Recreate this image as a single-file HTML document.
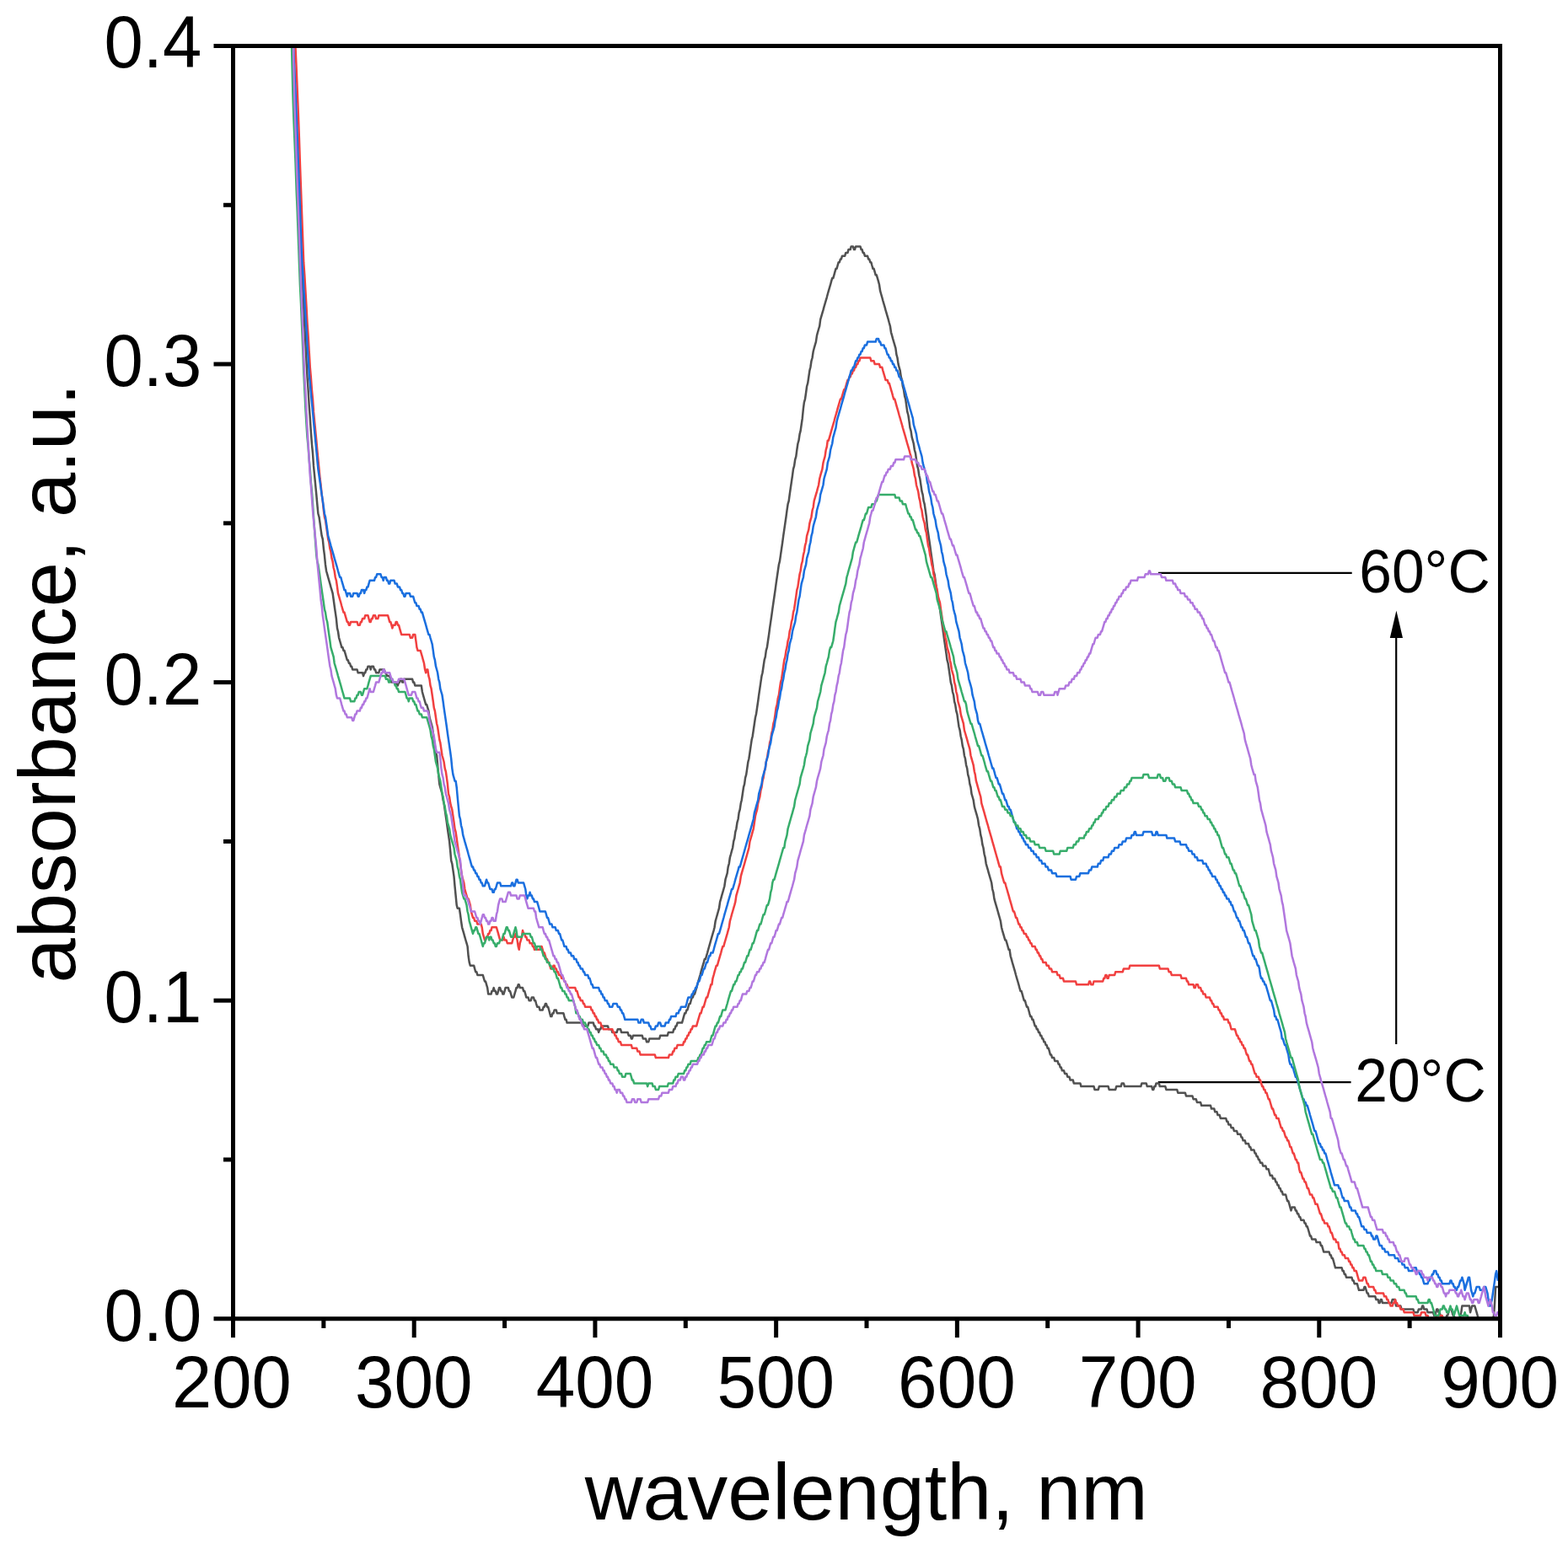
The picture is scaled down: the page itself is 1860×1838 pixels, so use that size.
<!DOCTYPE html>
<html lang="en">
<head>
<meta charset="utf-8">
<title>absorbance vs wavelength</title>
<style>
html,body{margin:0;padding:0;background:#fff;}
body{width:1860px;height:1838px;overflow:hidden;}
svg{display:block;}
text{font-family:"Liberation Sans",sans-serif;fill:#000;}
.tk{font-size:85px;}
.tt{font-size:95px;}
.an{font-size:71px;}
.ax{stroke:#000;stroke-width:5;fill:none;stroke-linecap:butt;}
.al{stroke:#000;stroke-width:2.2;fill:none;}
.cv{fill:none;stroke-width:2.5;stroke-linejoin:round;stroke-linecap:butt;}
</style>
</head>
<body>
<svg width="1860" height="1838" viewBox="0 0 1860 1838">
<rect x="0" y="0" width="1860" height="1838" fill="#fff"/>
<g class="al">
<line x1="1374" y1="679.8" x2="1603.7" y2="679.8"/>
<line x1="1373.7" y1="1284.2" x2="1602.6" y2="1284.2"/>
<line x1="1656.2" y1="1238.9" x2="1656.2" y2="750"/>
</g>
<polygon points="1656.4,724.6 1648.8,757 1664,757" fill="#000"/>
<svg x="276.50" y="54.50" width="1503.00" height="1510.25" viewBox="276.50 54.50 1503.00 1510.25" overflow="hidden">
<path class="cv" stroke="#515151" d="M348.0 57.0 L348.4 65.8 L349.5 92.3 L350.6 118.7 L351.6 145.1 L352.7 175.3 L353.8 205.5 L354.9 235.7 L355.9 269.7 L357.0 299.9 L358.1 322.6 L359.2 341.4 L360.2 364.1 L361.3 386.8 L362.4 405.6 L363.5 428.3 L364.5 447.2 L365.6 462.3 L366.7 481.1 L367.8 496.2 L368.8 511.4 L369.9 526.5 L371.0 537.8 L372.0 552.9 L373.1 564.2 L374.2 575.5 L375.3 586.9 L376.3 598.2 L377.4 609.5 L378.5 613.3 L379.6 620.8 L380.6 628.4 L381.7 635.9 L382.8 639.7 L383.9 651.0 L384.9 658.6 L386.0 669.9 L387.1 677.5 L388.2 681.3 L389.2 685.0 L390.3 688.8 L391.4 692.6 L392.4 696.4 L393.5 700.1 L394.6 703.9 L395.7 711.5 L396.7 719.0 L397.8 726.6 L398.9 734.1 L400.0 745.4 L401.0 749.2 L402.1 756.8 L403.2 760.5 L404.3 764.3 L405.3 768.1 L406.4 768.1 L407.5 771.9 L408.5 771.9 L409.6 775.6 L410.7 779.4 L411.8 783.2 L412.8 783.2 L413.9 787.0 L415.0 787.0 L416.1 790.7 L417.1 790.7 L418.2 794.5 L423.6 794.5 L424.7 798.3 L430.0 798.3 L431.1 802.1 L432.2 798.3 L433.2 798.3 L434.3 794.5 L435.4 794.5 L436.5 790.7 L438.6 790.7 L439.7 794.5 L440.8 790.7 L442.9 790.7 L444.0 794.5 L445.1 794.5 L446.1 798.3 L449.3 798.3 L450.4 794.5 L455.8 794.5 L456.9 798.3 L457.9 798.3 L459.0 802.1 L462.2 802.1 L463.3 805.8 L464.4 809.6 L469.7 809.6 L470.8 813.4 L471.9 813.4 L473.0 809.6 L474.0 809.6 L475.1 805.8 L476.2 805.8 L477.3 809.6 L478.3 809.6 L479.4 805.8 L489.1 805.8 L490.1 809.6 L491.2 809.6 L492.3 813.4 L499.8 813.4 L500.9 821.0 L501.9 824.7 L503.0 828.5 L504.1 832.3 L505.2 836.1 L506.2 836.1 L507.3 839.8 L508.4 843.6 L509.5 851.2 L510.5 854.9 L511.6 858.7 L512.7 862.5 L513.8 870.0 L514.8 877.6 L515.9 885.1 L517.0 892.7 L518.1 896.5 L519.1 907.8 L520.2 919.1 L521.3 930.4 L522.3 934.2 L523.4 938.0 L524.5 941.8 L525.6 949.3 L526.6 953.1 L527.7 960.7 L528.8 968.2 L529.9 975.8 L530.9 983.3 L532.0 990.9 L533.1 998.4 L534.2 1009.7 L535.2 1021.1 L536.3 1024.8 L537.4 1032.4 L538.5 1039.9 L539.5 1051.3 L540.6 1062.6 L541.7 1073.9 L542.7 1077.7 L544.9 1077.7 L546.0 1085.2 L547.0 1092.8 L548.1 1100.3 L549.2 1104.1 L550.3 1107.9 L551.3 1111.7 L552.4 1115.5 L553.5 1119.2 L554.6 1123.0 L555.6 1134.3 L556.7 1141.9 L557.8 1145.7 L562.1 1145.7 L563.1 1149.4 L564.2 1153.2 L565.3 1153.2 L566.4 1157.0 L572.8 1157.0 L573.9 1160.8 L575.0 1164.5 L576.0 1164.5 L577.1 1168.3 L578.2 1172.1 L579.2 1179.6 L582.5 1179.6 L583.5 1175.9 L584.6 1175.9 L585.7 1172.1 L586.8 1175.9 L587.8 1175.9 L588.9 1179.6 L590.0 1179.6 L591.1 1175.9 L592.1 1172.1 L593.2 1172.1 L594.3 1175.9 L595.4 1175.9 L596.4 1179.6 L597.5 1179.6 L598.6 1175.9 L599.6 1172.1 L602.9 1172.1 L603.9 1175.9 L605.0 1175.9 L606.1 1179.6 L607.2 1183.4 L609.3 1183.4 L610.4 1179.6 L611.5 1175.9 L612.5 1172.1 L613.6 1172.1 L614.7 1168.3 L615.7 1168.3 L616.8 1172.1 L620.0 1172.1 L621.1 1175.9 L622.2 1175.9 L623.3 1179.6 L624.3 1183.4 L626.5 1183.4 L627.6 1187.2 L629.7 1187.2 L630.8 1183.4 L632.9 1183.4 L634.0 1187.2 L635.1 1187.2 L636.1 1191.0 L637.2 1194.7 L639.4 1194.7 L640.4 1198.5 L643.7 1198.5 L644.7 1194.7 L645.8 1194.7 L646.9 1191.0 L648.0 1191.0 L649.0 1194.7 L650.1 1194.7 L651.2 1198.5 L652.2 1202.3 L653.3 1206.1 L654.4 1206.1 L655.5 1202.3 L656.5 1202.3 L657.6 1198.5 L659.8 1198.5 L660.8 1202.3 L668.4 1202.3 L669.4 1206.1 L670.5 1209.8 L671.6 1209.8 L672.6 1213.6 L690.9 1213.6 L692.0 1217.4 L697.3 1217.4 L698.4 1213.6 L703.8 1213.6 L704.9 1217.4 L705.9 1217.4 L707.0 1221.2 L709.1 1221.2 L710.2 1224.9 L711.3 1221.2 L712.4 1221.2 L713.4 1217.4 L721.0 1217.4 L722.0 1221.2 L725.3 1221.2 L726.3 1224.9 L731.7 1224.9 L732.8 1221.2 L736.0 1221.2 L737.1 1224.9 L744.6 1224.9 L745.7 1228.7 L747.8 1228.7 L748.9 1232.5 L749.9 1232.5 L751.0 1228.7 L761.8 1228.7 L762.8 1232.5 L766.0 1232.5 L767.1 1236.3 L769.3 1236.3 L770.3 1232.5 L782.2 1232.5 L783.2 1228.7 L791.8 1228.7 L792.9 1224.9 L798.3 1224.9 L799.3 1221.2 L800.4 1221.2 L801.5 1217.4 L802.5 1217.4 L803.6 1213.6 L809.0 1213.6 L810.1 1209.8 L811.1 1206.1 L812.2 1202.3 L813.3 1202.3 L814.4 1198.5 L815.4 1198.5 L816.5 1194.7 L817.6 1191.0 L818.7 1191.0 L819.7 1187.2 L820.8 1183.4 L821.9 1183.4 L822.9 1179.6 L824.0 1179.6 L825.1 1175.9 L826.2 1172.1 L827.2 1168.3 L828.3 1164.5 L829.4 1160.8 L830.5 1157.0 L831.5 1153.2 L832.6 1149.4 L833.7 1145.7 L834.8 1141.9 L835.8 1138.1 L836.9 1138.1 L838.0 1134.3 L839.1 1130.6 L840.1 1126.8 L841.2 1123.0 L842.3 1119.2 L843.3 1115.5 L844.4 1111.7 L845.5 1107.9 L846.6 1104.1 L847.6 1100.3 L848.7 1092.8 L849.8 1089.0 L850.9 1085.2 L851.9 1081.5 L853.0 1077.7 L854.1 1070.1 L855.2 1066.4 L856.2 1062.6 L857.3 1058.8 L858.4 1055.0 L859.4 1051.3 L860.5 1043.7 L861.6 1039.9 L862.7 1036.2 L863.7 1028.6 L864.8 1024.8 L865.9 1017.3 L867.0 1013.5 L868.0 1009.7 L869.1 1006.0 L870.2 998.4 L871.3 994.6 L872.3 987.1 L873.4 983.3 L874.5 975.8 L875.6 972.0 L876.6 964.4 L877.7 960.7 L878.8 953.1 L879.8 949.3 L880.9 941.8 L882.0 934.2 L883.1 930.4 L884.1 922.9 L885.2 919.1 L886.3 911.6 L887.4 904.0 L888.4 900.2 L889.5 892.7 L890.6 885.1 L891.7 877.6 L892.7 873.8 L893.8 866.3 L894.9 858.7 L896.0 851.2 L897.0 847.4 L898.1 839.8 L899.2 832.3 L900.2 824.7 L901.3 817.2 L902.4 809.6 L903.5 802.1 L904.5 798.3 L905.6 790.7 L906.7 783.2 L907.8 779.4 L908.8 771.9 L909.9 768.1 L911.0 760.5 L912.1 753.0 L913.1 745.4 L914.2 737.9 L915.3 730.3 L916.3 722.8 L917.4 715.2 L918.5 707.7 L919.6 700.1 L920.6 692.6 L921.7 685.0 L922.8 677.5 L923.9 669.9 L924.9 666.2 L926.0 658.6 L927.1 651.0 L928.2 643.5 L929.2 635.9 L930.3 628.4 L931.4 620.8 L932.5 613.3 L933.5 605.7 L934.6 598.2 L935.7 594.4 L936.7 586.9 L937.8 579.3 L938.9 571.8 L940.0 564.2 L941.0 556.7 L942.1 552.9 L943.2 545.3 L944.3 541.6 L945.3 534.0 L946.4 526.5 L947.5 522.7 L948.6 515.1 L949.6 511.4 L950.7 503.8 L951.8 496.2 L952.9 484.9 L953.9 477.4 L955.0 473.6 L956.1 466.0 L957.1 458.5 L958.2 454.7 L959.3 447.2 L960.4 439.6 L961.4 435.8 L962.5 428.3 L963.6 424.5 L964.7 417.0 L965.7 413.2 L966.8 409.4 L967.9 405.6 L969.0 398.1 L970.0 394.3 L971.1 390.5 L972.2 386.8 L973.2 379.2 L974.3 375.4 L975.4 371.7 L976.5 367.9 L977.5 364.1 L978.6 360.3 L979.7 356.6 L980.8 352.8 L981.8 349.0 L982.9 345.2 L984.0 341.4 L985.1 337.7 L986.1 333.9 L987.2 330.1 L988.3 330.1 L989.4 326.3 L990.4 322.6 L991.5 318.8 L992.6 318.8 L993.6 315.0 L994.7 311.2 L995.8 311.2 L996.9 307.5 L997.9 307.5 L999.0 303.7 L1002.2 303.7 L1003.3 299.9 L1005.5 299.9 L1006.5 296.1 L1008.7 296.1 L1009.7 292.4 L1011.9 292.4 L1013.0 296.1 L1014.0 296.1 L1015.1 292.4 L1020.5 292.4 L1021.6 296.1 L1022.6 296.1 L1023.7 299.9 L1024.8 299.9 L1025.9 303.7 L1029.1 303.7 L1030.1 307.5 L1031.2 307.5 L1032.3 311.2 L1033.4 311.2 L1034.4 315.0 L1035.5 318.8 L1036.6 318.8 L1037.7 322.6 L1038.7 326.3 L1039.8 326.3 L1040.9 330.1 L1042.0 333.9 L1043.0 337.7 L1044.1 345.2 L1045.2 349.0 L1046.3 352.8 L1047.3 356.6 L1048.4 360.3 L1049.5 364.1 L1050.5 367.9 L1051.6 371.7 L1052.7 375.4 L1053.8 379.2 L1054.8 383.0 L1055.9 386.8 L1057.0 394.3 L1058.1 398.1 L1059.1 401.9 L1060.2 405.6 L1061.3 409.4 L1062.4 413.2 L1063.4 420.7 L1064.5 424.5 L1065.6 432.1 L1066.6 435.8 L1067.7 439.6 L1068.8 447.2 L1069.9 450.9 L1070.9 458.5 L1072.0 462.3 L1073.1 469.8 L1074.2 473.6 L1075.2 481.1 L1076.3 488.7 L1077.4 492.5 L1078.5 500.0 L1079.5 507.6 L1080.6 511.4 L1081.7 518.9 L1082.8 522.7 L1083.8 526.5 L1084.9 534.0 L1086.0 537.8 L1087.0 545.3 L1088.1 552.9 L1089.2 556.7 L1090.3 564.2 L1091.3 568.0 L1092.4 575.5 L1093.5 583.1 L1094.6 586.9 L1095.6 594.4 L1096.7 598.2 L1097.8 605.7 L1098.9 613.3 L1099.9 624.6 L1101.0 632.2 L1102.1 639.7 L1103.2 647.3 L1104.2 654.8 L1105.3 662.4 L1106.4 669.9 L1107.4 677.5 L1108.5 681.3 L1109.6 688.8 L1110.7 696.4 L1111.7 703.9 L1112.8 711.5 L1113.9 715.2 L1115.0 722.8 L1116.0 730.3 L1117.1 737.9 L1118.2 745.4 L1119.3 753.0 L1120.3 760.5 L1121.4 768.1 L1122.5 775.6 L1123.5 783.2 L1124.6 787.0 L1125.7 794.5 L1126.8 802.1 L1127.8 809.6 L1128.9 813.4 L1130.0 821.0 L1131.1 824.7 L1132.1 832.3 L1133.2 836.1 L1134.3 843.6 L1135.4 847.4 L1136.4 854.9 L1137.5 862.5 L1138.6 866.3 L1139.7 873.8 L1140.7 877.6 L1141.8 885.1 L1142.9 888.9 L1143.9 896.5 L1145.0 900.2 L1146.1 907.8 L1147.2 911.6 L1148.2 919.1 L1149.3 922.9 L1150.4 930.4 L1151.5 934.2 L1152.5 941.8 L1153.6 945.5 L1154.7 949.3 L1155.8 956.9 L1156.8 960.7 L1157.9 964.4 L1159.0 968.2 L1160.0 972.0 L1161.1 979.5 L1162.2 983.3 L1163.3 990.9 L1164.3 994.6 L1165.4 1002.2 L1166.5 1006.0 L1167.6 1013.5 L1168.6 1017.3 L1169.7 1024.8 L1170.8 1028.6 L1171.9 1032.4 L1172.9 1036.2 L1174.0 1039.9 L1175.1 1043.7 L1176.2 1047.5 L1177.2 1055.0 L1178.3 1058.8 L1179.4 1066.4 L1180.4 1070.1 L1181.5 1073.9 L1182.6 1077.7 L1183.7 1081.5 L1184.7 1085.2 L1185.8 1089.0 L1186.9 1092.8 L1188.0 1100.3 L1189.0 1104.1 L1190.1 1107.9 L1191.2 1111.7 L1192.3 1115.5 L1193.3 1115.5 L1194.4 1119.2 L1195.5 1123.0 L1196.6 1126.8 L1197.6 1126.8 L1198.7 1134.3 L1199.8 1138.1 L1200.8 1141.9 L1201.9 1145.7 L1203.0 1149.4 L1204.1 1153.2 L1205.1 1157.0 L1206.2 1160.8 L1207.3 1164.5 L1208.4 1168.3 L1209.4 1172.1 L1210.5 1175.9 L1211.6 1175.9 L1212.7 1179.6 L1213.7 1183.4 L1214.8 1187.2 L1215.9 1187.2 L1216.9 1191.0 L1218.0 1194.7 L1219.1 1194.7 L1220.2 1198.5 L1221.2 1202.3 L1222.3 1206.1 L1223.4 1206.1 L1224.5 1209.8 L1225.5 1209.8 L1226.6 1213.6 L1227.7 1217.4 L1228.8 1217.4 L1229.8 1221.2 L1230.9 1221.2 L1232.0 1224.9 L1233.1 1224.9 L1234.1 1228.7 L1235.2 1228.7 L1236.3 1232.5 L1237.3 1232.5 L1238.4 1236.3 L1239.5 1236.3 L1240.6 1240.0 L1241.6 1240.0 L1242.7 1243.8 L1243.8 1243.8 L1244.9 1247.6 L1245.9 1251.4 L1247.0 1251.4 L1248.1 1255.1 L1250.2 1255.1 L1251.3 1258.9 L1254.5 1258.9 L1255.6 1262.7 L1256.7 1262.7 L1257.7 1266.5 L1258.8 1266.5 L1259.9 1270.3 L1262.0 1270.3 L1263.1 1274.0 L1265.3 1274.0 L1266.3 1277.8 L1268.5 1277.8 L1269.6 1281.6 L1272.8 1281.6 L1273.8 1285.4 L1281.4 1285.4 L1282.4 1289.1 L1297.5 1289.1 L1298.5 1292.9 L1302.8 1292.9 L1303.9 1289.1 L1314.6 1289.1 L1315.7 1292.9 L1323.2 1292.9 L1324.3 1289.1 L1329.7 1289.1 L1330.7 1285.4 L1332.9 1285.4 L1334.0 1289.1 L1353.3 1289.1 L1354.4 1285.4 L1359.7 1285.4 L1360.8 1289.1 L1366.2 1289.1 L1367.2 1292.9 L1368.3 1292.9 L1369.4 1289.1 L1370.5 1289.1 L1371.5 1285.4 L1374.8 1285.4 L1375.8 1289.1 L1382.3 1289.1 L1383.4 1292.9 L1396.2 1292.9 L1397.3 1296.7 L1405.9 1296.7 L1407.0 1300.5 L1414.5 1300.5 L1415.6 1304.2 L1418.8 1304.2 L1419.9 1308.0 L1424.1 1308.0 L1425.2 1311.8 L1436.0 1311.8 L1437.0 1315.6 L1440.3 1315.6 L1441.3 1319.3 L1443.5 1319.3 L1444.5 1323.1 L1446.7 1323.1 L1447.8 1326.9 L1454.2 1326.9 L1455.3 1330.7 L1456.4 1330.7 L1457.4 1334.4 L1459.6 1334.4 L1460.6 1338.2 L1462.8 1338.2 L1463.9 1342.0 L1467.1 1342.0 L1468.2 1345.8 L1471.4 1345.8 L1472.5 1349.5 L1473.5 1349.5 L1474.6 1353.3 L1476.8 1353.3 L1477.8 1357.1 L1481.0 1357.1 L1482.1 1360.9 L1483.2 1360.9 L1484.3 1364.6 L1487.5 1364.6 L1488.6 1368.4 L1489.6 1368.4 L1490.7 1372.2 L1491.8 1372.2 L1492.9 1376.0 L1493.9 1376.0 L1495.0 1379.7 L1497.2 1379.7 L1498.2 1383.5 L1501.4 1383.5 L1502.5 1387.3 L1504.7 1387.3 L1505.7 1391.1 L1506.8 1394.8 L1509.0 1394.8 L1510.0 1398.6 L1512.2 1398.6 L1513.3 1402.4 L1514.3 1402.4 L1515.4 1406.2 L1516.5 1406.2 L1517.5 1409.9 L1518.6 1409.9 L1519.7 1413.7 L1520.8 1413.7 L1521.8 1417.5 L1525.1 1417.5 L1526.1 1421.3 L1527.2 1425.1 L1528.3 1425.1 L1529.4 1428.8 L1530.4 1432.6 L1531.5 1436.4 L1532.6 1432.6 L1535.8 1432.6 L1536.9 1436.4 L1537.9 1436.4 L1539.0 1440.2 L1540.1 1440.2 L1541.2 1443.9 L1542.2 1443.9 L1543.3 1447.7 L1546.5 1447.7 L1547.6 1451.5 L1548.7 1451.5 L1549.8 1455.3 L1550.8 1455.3 L1551.9 1459.0 L1553.0 1462.8 L1554.0 1466.6 L1555.1 1466.6 L1556.2 1470.4 L1560.5 1470.4 L1561.6 1474.1 L1565.9 1474.1 L1566.9 1477.9 L1568.0 1477.9 L1569.1 1481.7 L1570.2 1485.5 L1576.6 1485.5 L1577.7 1489.2 L1578.7 1489.2 L1579.8 1493.0 L1580.9 1493.0 L1582.0 1496.8 L1583.0 1500.6 L1584.1 1504.3 L1591.6 1504.3 L1592.7 1508.1 L1593.8 1508.1 L1594.8 1511.9 L1595.9 1511.9 L1597.0 1515.7 L1603.4 1515.7 L1604.5 1519.4 L1605.6 1519.4 L1606.7 1523.2 L1609.9 1523.2 L1610.9 1527.0 L1612.0 1530.8 L1617.4 1530.8 L1618.5 1527.0 L1619.5 1527.0 L1620.6 1530.8 L1621.7 1534.5 L1622.8 1534.5 L1623.8 1538.3 L1631.3 1538.3 L1632.4 1542.1 L1634.6 1542.1 L1635.6 1545.9 L1636.7 1545.9 L1637.8 1542.1 L1638.9 1542.1 L1639.9 1545.9 L1650.7 1545.9 L1651.7 1542.1 L1655.0 1542.1 L1656.0 1549.6 L1661.4 1549.6 L1662.5 1553.4 L1676.4 1553.4 L1677.5 1557.2 L1681.8 1557.2 L1682.9 1553.4 L1686.1 1553.4 L1687.2 1549.6 L1688.2 1549.6 L1689.3 1553.4 L1692.5 1553.4 L1693.6 1557.2 L1700.1 1557.2 L1701.1 1561.0 L1702.2 1561.0 L1703.3 1557.2 L1704.3 1553.4 L1705.4 1553.4 L1706.5 1557.2 L1707.6 1557.2 L1708.6 1561.0 L1709.7 1561.0 L1710.8 1564.8 L1715.1 1564.8 L1716.2 1561.0 L1717.2 1561.0 L1718.3 1557.2 L1719.4 1553.4 L1721.5 1553.4 L1722.6 1557.2 L1723.7 1561.0 L1724.7 1561.0 L1725.8 1564.8 L1728.0 1564.8 L1729.0 1568.5 L1730.1 1564.8 L1731.2 1564.8 L1732.3 1561.0 L1733.3 1557.2 L1734.4 1549.6 L1743.0 1549.6 L1744.1 1557.2 L1745.1 1553.4 L1746.2 1549.6 L1749.4 1549.6 L1750.5 1553.4 L1751.6 1557.2 L1752.7 1561.0 L1753.7 1564.8 L1754.8 1564.8 L1755.9 1568.5 L1767.7 1568.5 L1768.8 1564.8 L1770.9 1564.8 L1772.0 1561.0 L1773.1 1545.9 L1774.1 1527.0 L1776.3 1527.0 L1777.0 1527.3"/>
<path class="cv" stroke="#F14040" d="M350.5 57.0 L350.6 58.3 L351.6 80.9 L352.7 107.4 L353.8 133.8 L354.9 164.0 L355.9 194.2 L357.0 224.4 L358.1 254.6 L359.2 284.8 L360.2 311.2 L361.3 326.3 L362.4 345.2 L363.5 364.1 L364.5 383.0 L365.6 398.1 L366.7 417.0 L367.8 435.8 L368.8 447.2 L369.9 462.3 L371.0 473.6 L372.0 488.7 L373.1 500.0 L374.2 511.4 L375.3 522.7 L376.3 534.0 L377.4 545.3 L378.5 556.7 L379.6 568.0 L380.6 575.5 L381.7 586.9 L382.8 594.4 L383.9 605.7 L384.9 613.3 L386.0 617.1 L387.1 624.6 L388.2 632.2 L389.2 639.7 L390.3 643.5 L391.4 651.0 L392.4 654.8 L393.5 662.4 L394.6 666.2 L395.7 673.7 L396.7 677.5 L397.8 685.0 L398.9 688.8 L400.0 696.4 L401.0 703.9 L402.1 707.7 L403.2 711.5 L404.3 715.2 L405.3 719.0 L406.4 722.8 L407.5 726.6 L408.5 726.6 L409.6 730.3 L410.7 734.1 L411.8 737.9 L412.8 737.9 L413.9 741.7 L415.0 741.7 L416.1 737.9 L423.6 737.9 L424.7 741.7 L426.8 741.7 L427.9 737.9 L428.9 737.9 L430.0 734.1 L432.2 734.1 L433.2 730.3 L436.5 730.3 L437.5 734.1 L438.6 737.9 L439.7 737.9 L440.8 734.1 L441.8 734.1 L442.9 730.3 L445.1 730.3 L446.1 734.1 L448.3 734.1 L449.3 730.3 L460.1 730.3 L461.2 734.1 L462.2 737.9 L463.3 737.9 L464.4 741.7 L465.4 745.4 L466.5 741.7 L468.7 741.7 L469.7 737.9 L470.8 737.9 L471.9 741.7 L473.0 741.7 L474.0 745.4 L475.1 749.2 L476.2 753.0 L485.8 753.0 L486.9 756.8 L489.1 756.8 L490.1 753.0 L492.3 753.0 L493.4 760.5 L494.4 768.1 L495.5 771.9 L498.7 771.9 L499.8 775.6 L500.9 779.4 L501.9 783.2 L503.0 787.0 L504.1 794.5 L505.2 798.3 L506.2 794.5 L507.3 794.5 L508.4 802.1 L509.5 805.8 L510.5 813.4 L511.6 817.2 L512.7 824.7 L513.8 832.3 L514.8 839.8 L515.9 843.6 L517.0 851.2 L518.1 858.7 L519.1 862.5 L520.2 870.0 L521.3 877.6 L522.3 881.4 L523.4 888.9 L524.5 896.5 L525.6 900.2 L526.6 904.0 L527.7 911.6 L528.8 915.3 L529.9 922.9 L530.9 930.4 L532.0 941.8 L533.1 945.5 L534.2 953.1 L535.2 956.9 L536.3 960.7 L537.4 968.2 L538.5 975.8 L539.5 983.3 L540.6 987.1 L541.7 994.6 L542.7 1002.2 L543.8 1009.7 L544.9 1017.3 L546.0 1024.8 L547.0 1032.4 L548.1 1039.9 L549.2 1043.7 L550.3 1047.5 L551.3 1055.0 L552.4 1058.8 L553.5 1062.6 L554.6 1066.4 L555.6 1066.4 L556.7 1070.1 L557.8 1073.9 L558.8 1081.5 L559.9 1085.2 L561.0 1089.0 L562.1 1089.0 L563.1 1092.8 L565.3 1092.8 L566.4 1096.6 L570.7 1096.6 L571.7 1100.3 L572.8 1107.9 L573.9 1111.7 L575.0 1115.5 L576.0 1115.5 L577.1 1111.7 L578.2 1111.7 L579.2 1107.9 L580.3 1107.9 L581.4 1104.1 L582.5 1104.1 L583.5 1100.3 L588.9 1100.3 L590.0 1104.1 L591.1 1107.9 L592.1 1111.7 L593.2 1115.5 L596.4 1115.5 L597.5 1111.7 L598.6 1115.5 L600.7 1115.5 L601.8 1119.2 L607.2 1119.2 L608.2 1115.5 L609.3 1111.7 L610.4 1111.7 L611.5 1107.9 L612.5 1111.7 L613.6 1115.5 L614.7 1123.0 L615.7 1126.8 L616.8 1119.2 L617.9 1115.5 L619.0 1111.7 L620.0 1104.1 L621.1 1107.9 L622.2 1107.9 L623.3 1111.7 L624.3 1111.7 L625.4 1115.5 L627.6 1115.5 L628.6 1119.2 L630.8 1119.2 L631.9 1123.0 L632.9 1123.0 L634.0 1126.8 L640.4 1126.8 L641.5 1123.0 L642.6 1123.0 L643.7 1126.8 L644.7 1130.6 L645.8 1130.6 L646.9 1134.3 L648.0 1138.1 L649.0 1138.1 L650.1 1141.9 L651.2 1141.9 L652.2 1145.7 L653.3 1149.4 L655.5 1149.4 L656.5 1145.7 L657.6 1145.7 L658.7 1149.4 L659.8 1149.4 L660.8 1153.2 L661.9 1153.2 L663.0 1157.0 L665.1 1157.0 L666.2 1160.8 L668.4 1160.8 L669.4 1164.5 L670.5 1164.5 L671.6 1168.3 L672.6 1168.3 L673.7 1172.1 L682.3 1172.1 L683.4 1175.9 L684.5 1175.9 L685.5 1179.6 L686.6 1183.4 L687.7 1183.4 L688.8 1187.2 L690.9 1187.2 L692.0 1191.0 L693.0 1191.0 L694.1 1194.7 L700.6 1194.7 L701.6 1198.5 L702.7 1198.5 L703.8 1202.3 L704.9 1202.3 L705.9 1206.1 L707.0 1206.1 L708.1 1209.8 L709.1 1209.8 L710.2 1213.6 L712.4 1213.6 L713.4 1217.4 L714.5 1217.4 L715.6 1221.2 L726.3 1221.2 L727.4 1224.9 L728.5 1224.9 L729.5 1228.7 L730.6 1228.7 L731.7 1232.5 L732.8 1232.5 L733.8 1236.3 L736.0 1236.3 L737.1 1240.0 L748.9 1240.0 L749.9 1243.8 L755.3 1243.8 L756.4 1247.6 L758.5 1247.6 L759.6 1251.4 L776.8 1251.4 L777.9 1255.1 L792.9 1255.1 L794.0 1251.4 L797.2 1251.4 L798.3 1247.6 L799.3 1247.6 L800.4 1243.8 L802.5 1243.8 L803.6 1240.0 L810.1 1240.0 L811.1 1236.3 L812.2 1236.3 L813.3 1232.5 L814.4 1232.5 L815.4 1228.7 L816.5 1228.7 L817.6 1224.9 L818.7 1224.9 L819.7 1221.2 L820.8 1221.2 L821.9 1217.4 L826.2 1217.4 L827.2 1213.6 L828.3 1209.8 L829.4 1206.1 L830.5 1202.3 L831.5 1202.3 L832.6 1198.5 L833.7 1194.7 L834.8 1194.7 L835.8 1191.0 L836.9 1187.2 L838.0 1183.4 L839.1 1183.4 L840.1 1179.6 L841.2 1175.9 L842.3 1172.1 L843.3 1168.3 L844.4 1168.3 L845.5 1160.8 L846.6 1157.0 L847.6 1153.2 L848.7 1149.4 L849.8 1145.7 L850.9 1145.7 L851.9 1141.9 L853.0 1138.1 L854.1 1134.3 L855.2 1130.6 L856.2 1126.8 L857.3 1123.0 L858.4 1123.0 L859.4 1119.2 L860.5 1115.5 L861.6 1111.7 L862.7 1107.9 L863.7 1104.1 L864.8 1100.3 L865.9 1092.8 L867.0 1089.0 L868.0 1085.2 L869.1 1081.5 L870.2 1077.7 L871.3 1073.9 L872.3 1070.1 L873.4 1062.6 L874.5 1058.8 L875.6 1055.0 L876.6 1051.3 L877.7 1047.5 L878.8 1039.9 L879.8 1036.2 L880.9 1032.4 L882.0 1028.6 L883.1 1024.8 L884.1 1021.1 L885.2 1017.3 L886.3 1013.5 L887.4 1009.7 L888.4 1006.0 L889.5 998.4 L890.6 994.6 L891.7 990.9 L892.7 987.1 L893.8 983.3 L894.9 975.8 L896.0 968.2 L897.0 964.4 L898.1 960.7 L899.2 953.1 L900.2 949.3 L901.3 945.5 L902.4 938.0 L903.5 934.2 L904.5 926.7 L905.6 922.9 L906.7 915.3 L907.8 911.6 L908.8 904.0 L909.9 900.2 L911.0 892.7 L912.1 888.9 L913.1 881.4 L914.2 877.6 L915.3 870.0 L916.3 866.3 L917.4 858.7 L918.5 854.9 L919.6 847.4 L920.6 839.8 L921.7 836.1 L922.8 828.5 L923.9 824.7 L924.9 817.2 L926.0 809.6 L927.1 805.8 L928.2 798.3 L929.2 790.7 L930.3 783.2 L931.4 779.4 L932.5 771.9 L933.5 768.1 L934.6 760.5 L935.7 756.8 L936.7 749.2 L937.8 745.4 L938.9 737.9 L940.0 734.1 L941.0 726.6 L942.1 722.8 L943.2 715.2 L944.3 707.7 L945.3 700.1 L946.4 696.4 L947.5 688.8 L948.6 681.3 L949.6 677.5 L950.7 669.9 L951.8 666.2 L952.9 658.6 L953.9 654.8 L955.0 647.3 L956.1 643.5 L957.1 635.9 L958.2 632.2 L959.3 628.4 L960.4 620.8 L961.4 617.1 L962.5 613.3 L963.6 605.7 L964.7 602.0 L965.7 594.4 L966.8 590.6 L967.9 586.9 L969.0 583.1 L970.0 579.3 L971.1 575.5 L972.2 568.0 L973.2 564.2 L974.3 560.4 L975.4 556.7 L976.5 549.1 L977.5 545.3 L978.6 541.6 L979.7 534.0 L980.8 530.2 L981.8 522.7 L982.9 522.7 L984.0 518.9 L985.1 515.1 L986.1 511.4 L987.2 507.6 L988.3 503.8 L989.4 500.0 L990.4 496.2 L991.5 492.5 L992.6 488.7 L993.6 484.9 L994.7 481.1 L995.8 477.4 L996.9 473.6 L997.9 473.6 L999.0 469.8 L1000.1 466.0 L1001.2 462.3 L1002.2 462.3 L1003.3 458.5 L1004.4 454.7 L1005.5 450.9 L1006.5 450.9 L1007.6 447.2 L1008.7 447.2 L1009.7 443.4 L1010.8 443.4 L1011.9 439.6 L1013.0 439.6 L1014.0 435.8 L1015.1 435.8 L1016.2 432.1 L1017.3 432.1 L1018.3 428.3 L1019.4 428.3 L1020.5 424.5 L1032.3 424.5 L1033.4 428.3 L1036.6 428.3 L1037.7 432.1 L1043.0 432.1 L1044.1 435.8 L1046.3 435.8 L1047.3 439.6 L1048.4 443.4 L1049.5 447.2 L1050.5 450.9 L1052.7 450.9 L1053.8 454.7 L1054.8 454.7 L1055.9 458.5 L1057.0 462.3 L1058.1 466.0 L1059.1 469.8 L1060.2 473.6 L1061.3 473.6 L1062.4 477.4 L1063.4 481.1 L1064.5 484.9 L1065.6 488.7 L1066.6 492.5 L1067.7 496.2 L1068.8 500.0 L1069.9 503.8 L1070.9 507.6 L1072.0 511.4 L1073.1 515.1 L1074.2 518.9 L1075.2 522.7 L1076.3 526.5 L1077.4 530.2 L1078.5 534.0 L1079.5 537.8 L1080.6 541.6 L1081.7 549.1 L1082.8 552.9 L1083.8 556.7 L1084.9 564.2 L1086.0 568.0 L1087.0 575.5 L1088.1 579.3 L1089.2 583.1 L1090.3 590.6 L1091.3 594.4 L1092.4 602.0 L1093.5 605.7 L1094.6 613.3 L1095.6 617.1 L1096.7 620.8 L1097.8 628.4 L1098.9 632.2 L1099.9 639.7 L1101.0 647.3 L1102.1 651.0 L1103.2 658.6 L1104.2 662.4 L1105.3 669.9 L1106.4 673.7 L1107.4 681.3 L1108.5 685.0 L1109.6 692.6 L1110.7 696.4 L1111.7 700.1 L1112.8 707.7 L1113.9 711.5 L1115.0 715.2 L1116.0 722.8 L1117.1 730.3 L1118.2 737.9 L1119.3 745.4 L1120.3 749.2 L1121.4 756.8 L1122.5 760.5 L1123.5 768.1 L1124.6 771.9 L1125.7 775.6 L1126.8 783.2 L1127.8 787.0 L1128.9 794.5 L1130.0 798.3 L1131.1 802.1 L1132.1 809.6 L1133.2 813.4 L1134.3 821.0 L1135.4 824.7 L1136.4 832.3 L1137.5 836.1 L1138.6 839.8 L1139.7 847.4 L1140.7 851.2 L1141.8 854.9 L1142.9 858.7 L1143.9 866.3 L1145.0 870.0 L1146.1 873.8 L1147.2 877.6 L1148.2 881.4 L1149.3 885.1 L1150.4 888.9 L1151.5 896.5 L1152.5 900.2 L1153.6 904.0 L1154.7 907.8 L1155.8 915.3 L1156.8 919.1 L1157.9 926.7 L1159.0 930.4 L1160.0 934.2 L1161.1 938.0 L1162.2 941.8 L1163.3 945.5 L1164.3 953.1 L1165.4 956.9 L1166.5 960.7 L1167.6 964.4 L1168.6 968.2 L1169.7 972.0 L1170.8 975.8 L1171.9 979.5 L1172.9 983.3 L1174.0 987.1 L1175.1 990.9 L1176.2 994.6 L1177.2 998.4 L1178.3 1002.2 L1179.4 1006.0 L1180.4 1009.7 L1181.5 1013.5 L1182.6 1017.3 L1183.7 1021.1 L1184.7 1024.8 L1185.8 1028.6 L1186.9 1028.6 L1188.0 1036.2 L1189.0 1039.9 L1190.1 1043.7 L1191.2 1047.5 L1192.3 1047.5 L1193.3 1051.3 L1194.4 1055.0 L1195.5 1058.8 L1196.6 1062.6 L1197.6 1066.4 L1198.7 1070.1 L1199.8 1073.9 L1200.8 1077.7 L1201.9 1081.5 L1203.0 1081.5 L1204.1 1085.2 L1205.1 1089.0 L1206.2 1089.0 L1207.3 1092.8 L1208.4 1096.6 L1209.4 1096.6 L1210.5 1100.3 L1211.6 1100.3 L1212.7 1104.1 L1213.7 1104.1 L1214.8 1107.9 L1216.9 1107.9 L1218.0 1111.7 L1219.1 1111.7 L1220.2 1115.5 L1221.2 1115.5 L1222.3 1119.2 L1223.4 1119.2 L1224.5 1123.0 L1227.7 1123.0 L1228.8 1126.8 L1229.8 1126.8 L1230.9 1130.6 L1232.0 1130.6 L1233.1 1134.3 L1234.1 1134.3 L1235.2 1138.1 L1236.3 1138.1 L1237.3 1141.9 L1240.6 1141.9 L1241.6 1145.7 L1243.8 1145.7 L1244.9 1149.4 L1247.0 1149.4 L1248.1 1153.2 L1253.5 1153.2 L1254.5 1157.0 L1256.7 1157.0 L1257.7 1160.8 L1261.0 1160.8 L1262.0 1164.5 L1276.0 1164.5 L1277.1 1168.3 L1291.0 1168.3 L1292.1 1164.5 L1293.2 1164.5 L1294.2 1168.3 L1296.4 1168.3 L1297.5 1164.5 L1308.2 1164.5 L1309.3 1160.8 L1310.3 1160.8 L1311.4 1157.0 L1312.5 1157.0 L1313.6 1160.8 L1314.6 1160.8 L1315.7 1157.0 L1322.2 1157.0 L1323.2 1153.2 L1331.8 1153.2 L1332.9 1149.4 L1339.3 1149.4 L1340.4 1145.7 L1374.8 1145.7 L1375.8 1149.4 L1385.5 1149.4 L1386.6 1153.2 L1388.7 1153.2 L1389.8 1157.0 L1400.5 1157.0 L1401.6 1160.8 L1407.0 1160.8 L1408.0 1164.5 L1409.1 1164.5 L1410.2 1168.3 L1415.6 1168.3 L1416.6 1172.1 L1417.7 1172.1 L1418.8 1168.3 L1420.9 1168.3 L1422.0 1172.1 L1424.1 1172.1 L1425.2 1175.9 L1426.3 1175.9 L1427.4 1179.6 L1429.5 1179.6 L1430.6 1183.4 L1434.9 1183.4 L1436.0 1187.2 L1437.0 1187.2 L1438.1 1191.0 L1439.2 1191.0 L1440.3 1194.7 L1444.5 1194.7 L1445.6 1198.5 L1446.7 1198.5 L1447.8 1202.3 L1448.8 1202.3 L1449.9 1206.1 L1451.0 1206.1 L1452.1 1209.8 L1456.4 1209.8 L1457.4 1213.6 L1458.5 1213.6 L1459.6 1217.4 L1460.6 1221.2 L1464.9 1221.2 L1466.0 1224.9 L1467.1 1228.7 L1468.2 1228.7 L1469.2 1232.5 L1470.3 1232.5 L1471.4 1236.3 L1472.5 1236.3 L1473.5 1240.0 L1474.6 1240.0 L1475.7 1243.8 L1476.8 1243.8 L1477.8 1247.6 L1478.9 1251.4 L1480.0 1251.4 L1481.0 1255.1 L1482.1 1258.9 L1483.2 1258.9 L1484.3 1262.7 L1485.3 1262.7 L1486.4 1266.5 L1487.5 1270.3 L1488.6 1274.0 L1489.6 1274.0 L1490.7 1277.8 L1492.9 1277.8 L1493.9 1281.6 L1495.0 1281.6 L1496.1 1285.4 L1497.2 1289.1 L1498.2 1289.1 L1499.3 1292.9 L1500.4 1292.9 L1501.4 1296.7 L1502.5 1296.7 L1503.6 1300.5 L1504.7 1304.2 L1505.7 1304.2 L1506.8 1308.0 L1507.9 1311.8 L1509.0 1315.6 L1510.0 1315.6 L1511.1 1319.3 L1512.2 1323.1 L1513.3 1323.1 L1514.3 1326.9 L1516.5 1326.9 L1517.5 1330.7 L1518.6 1334.4 L1519.7 1338.2 L1520.8 1338.2 L1521.8 1342.0 L1522.9 1342.0 L1524.0 1345.8 L1525.1 1349.5 L1526.1 1349.5 L1527.2 1353.3 L1528.3 1353.3 L1529.4 1357.1 L1530.4 1360.9 L1531.5 1360.9 L1532.6 1364.6 L1533.7 1368.4 L1534.7 1368.4 L1535.8 1372.2 L1536.9 1376.0 L1537.9 1376.0 L1539.0 1379.7 L1540.1 1379.7 L1541.2 1387.3 L1542.2 1391.1 L1543.3 1391.1 L1544.4 1394.8 L1545.5 1398.6 L1546.5 1398.6 L1547.6 1402.4 L1548.7 1402.4 L1549.8 1406.2 L1550.8 1409.9 L1551.9 1409.9 L1553.0 1413.7 L1554.0 1417.5 L1556.2 1417.5 L1557.3 1421.3 L1558.3 1421.3 L1559.4 1425.1 L1560.5 1428.8 L1562.6 1428.8 L1563.7 1432.6 L1564.8 1436.4 L1565.9 1440.2 L1566.9 1440.2 L1568.0 1443.9 L1569.1 1447.7 L1570.2 1447.7 L1571.2 1451.5 L1574.4 1451.5 L1575.5 1455.3 L1576.6 1455.3 L1577.7 1459.0 L1578.7 1462.8 L1579.8 1462.8 L1580.9 1466.6 L1582.0 1470.4 L1584.1 1470.4 L1585.2 1474.1 L1587.3 1474.1 L1588.4 1481.7 L1589.5 1481.7 L1590.6 1485.5 L1591.6 1485.5 L1592.7 1489.2 L1594.8 1489.2 L1595.9 1493.0 L1599.1 1493.0 L1600.2 1496.8 L1601.3 1496.8 L1602.4 1500.6 L1603.4 1500.6 L1604.5 1504.3 L1605.6 1504.3 L1606.7 1508.1 L1608.8 1508.1 L1609.9 1511.9 L1610.9 1515.7 L1612.0 1519.4 L1616.3 1519.4 L1617.4 1515.7 L1619.5 1515.7 L1620.6 1519.4 L1621.7 1523.2 L1622.8 1523.2 L1623.8 1527.0 L1629.2 1527.0 L1630.3 1530.8 L1631.3 1530.8 L1632.4 1534.5 L1641.0 1534.5 L1642.1 1538.3 L1644.2 1538.3 L1645.3 1542.1 L1646.4 1542.1 L1647.5 1545.9 L1648.5 1545.9 L1649.6 1549.6 L1651.7 1549.6 L1652.8 1545.9 L1653.9 1545.9 L1655.0 1542.1 L1656.0 1545.9 L1657.1 1545.9 L1658.2 1549.6 L1660.3 1549.6 L1661.4 1553.4 L1664.6 1553.4 L1665.7 1557.2 L1676.4 1557.2 L1677.5 1561.0 L1685.0 1561.0 L1686.1 1557.2 L1690.4 1557.2 L1691.5 1561.0 L1693.6 1561.0 L1694.7 1564.8 L1703.3 1564.8 L1704.3 1561.0 L1710.8 1561.0 L1711.9 1564.8 L1715.1 1564.8 L1716.2 1568.5 L1776.3 1568.5 L1777.0 1567.1"/>
<path class="cv" stroke="#1A6FDF" d="M348.1 57.0 L348.4 65.8 L349.5 88.5 L350.6 111.1 L351.6 137.6 L352.7 164.0 L353.8 194.2 L354.9 220.6 L355.9 247.1 L357.0 281.0 L358.1 307.5 L359.2 322.6 L360.2 341.4 L361.3 356.6 L362.4 375.4 L363.5 390.5 L364.5 409.4 L365.6 424.5 L366.7 443.4 L367.8 454.7 L368.8 466.0 L369.9 477.4 L371.0 488.7 L372.0 500.0 L373.1 511.4 L374.2 522.7 L375.3 534.0 L376.3 545.3 L377.4 556.7 L378.5 564.2 L379.6 571.8 L380.6 579.3 L381.7 586.9 L382.8 594.4 L383.9 602.0 L384.9 609.5 L386.0 613.3 L387.1 620.8 L388.2 628.4 L389.2 635.9 L390.3 639.7 L391.4 643.5 L392.4 647.3 L393.5 651.0 L394.6 654.8 L395.7 658.6 L396.7 662.4 L397.8 666.2 L398.9 669.9 L400.0 673.7 L401.0 677.5 L402.1 681.3 L403.2 685.0 L404.3 685.0 L405.3 688.8 L406.4 692.6 L407.5 696.4 L408.5 700.1 L409.6 700.1 L410.7 703.9 L411.8 707.7 L412.8 703.9 L415.0 703.9 L416.1 707.7 L418.2 707.7 L419.3 703.9 L423.6 703.9 L424.7 707.7 L425.7 707.7 L426.8 703.9 L427.9 703.9 L428.9 700.1 L431.1 700.1 L432.2 703.9 L433.2 700.1 L434.3 700.1 L435.4 696.4 L436.5 696.4 L437.5 692.6 L438.6 688.8 L444.0 688.8 L445.1 685.0 L446.1 685.0 L447.2 681.3 L451.5 681.3 L452.6 685.0 L453.6 685.0 L454.7 688.8 L455.8 685.0 L457.9 685.0 L459.0 688.8 L460.1 688.8 L461.2 692.6 L462.2 692.6 L463.3 688.8 L467.6 688.8 L468.7 692.6 L470.8 692.6 L471.9 696.4 L474.0 696.4 L475.1 700.1 L476.2 700.1 L477.3 703.9 L478.3 703.9 L479.4 707.7 L480.5 707.7 L481.6 703.9 L485.8 703.9 L486.9 707.7 L490.1 707.7 L491.2 711.5 L492.3 715.2 L493.4 715.2 L494.4 719.0 L496.6 719.0 L497.7 722.8 L498.7 722.8 L499.8 726.6 L500.9 726.6 L501.9 730.3 L503.0 734.1 L504.1 737.9 L505.2 741.7 L506.2 745.4 L507.3 749.2 L508.4 753.0 L509.5 753.0 L510.5 756.8 L511.6 760.5 L512.7 764.3 L513.8 771.9 L514.8 779.4 L515.9 783.2 L517.0 790.7 L518.1 794.5 L519.1 798.3 L520.2 805.8 L521.3 809.6 L522.3 817.2 L523.4 821.0 L524.5 824.7 L525.6 832.3 L526.6 839.8 L527.7 847.4 L528.8 854.9 L529.9 862.5 L530.9 870.0 L532.0 877.6 L533.1 885.1 L534.2 892.7 L535.2 900.2 L536.3 911.6 L537.4 919.1 L538.5 922.9 L539.5 926.7 L540.6 926.7 L541.7 934.2 L542.7 945.5 L543.8 956.9 L544.9 968.2 L546.0 972.0 L547.0 979.5 L548.1 983.3 L549.2 990.9 L550.3 994.6 L551.3 998.4 L552.4 1002.2 L553.5 1006.0 L554.6 1009.7 L555.6 1013.5 L556.7 1017.3 L557.8 1021.1 L558.8 1024.8 L559.9 1028.6 L561.0 1028.6 L562.1 1032.4 L563.1 1032.4 L564.2 1036.2 L565.3 1036.2 L566.4 1039.9 L567.4 1039.9 L568.5 1043.7 L569.6 1043.7 L570.7 1047.5 L571.7 1047.5 L572.8 1051.3 L575.0 1051.3 L576.0 1047.5 L577.1 1043.7 L578.2 1047.5 L579.2 1047.5 L580.3 1051.3 L581.4 1055.0 L583.5 1055.0 L584.6 1058.8 L585.7 1058.8 L586.8 1055.0 L587.8 1055.0 L588.9 1051.3 L590.0 1047.5 L593.2 1047.5 L594.3 1051.3 L606.1 1051.3 L607.2 1047.5 L608.2 1047.5 L609.3 1051.3 L610.4 1051.3 L611.5 1047.5 L612.5 1043.7 L613.6 1043.7 L614.7 1047.5 L621.1 1047.5 L622.2 1051.3 L623.3 1055.0 L624.3 1062.6 L625.4 1066.4 L626.5 1062.6 L627.6 1062.6 L628.6 1058.8 L629.7 1062.6 L630.8 1062.6 L631.9 1066.4 L632.9 1066.4 L634.0 1070.1 L637.2 1070.1 L638.3 1073.9 L639.4 1077.7 L640.4 1081.5 L646.9 1081.5 L648.0 1085.2 L649.0 1089.0 L650.1 1089.0 L651.2 1092.8 L652.2 1096.6 L654.4 1096.6 L655.5 1100.3 L658.7 1100.3 L659.8 1104.1 L661.9 1104.1 L663.0 1107.9 L664.1 1107.9 L665.1 1111.7 L666.2 1115.5 L667.3 1115.5 L668.4 1119.2 L669.4 1123.0 L671.6 1123.0 L672.6 1126.8 L673.7 1126.8 L674.8 1130.6 L676.9 1130.6 L678.0 1134.3 L680.2 1134.3 L681.2 1138.1 L683.4 1138.1 L684.5 1141.9 L685.5 1141.9 L686.6 1145.7 L687.7 1145.7 L688.8 1149.4 L690.9 1149.4 L692.0 1153.2 L693.0 1153.2 L694.1 1157.0 L697.3 1157.0 L698.4 1160.8 L699.5 1160.8 L700.6 1164.5 L701.6 1168.3 L702.7 1168.3 L703.8 1172.1 L710.2 1172.1 L711.3 1175.9 L712.4 1175.9 L713.4 1179.6 L714.5 1179.6 L715.6 1183.4 L716.7 1183.4 L717.7 1187.2 L719.9 1187.2 L721.0 1191.0 L722.0 1191.0 L723.1 1194.7 L726.3 1194.7 L727.4 1191.0 L731.7 1191.0 L732.8 1194.7 L734.9 1194.7 L736.0 1198.5 L737.1 1198.5 L738.1 1202.3 L739.2 1202.3 L740.3 1206.1 L741.4 1209.8 L756.4 1209.8 L757.5 1213.6 L759.6 1213.6 L760.7 1209.8 L762.8 1209.8 L763.9 1213.6 L769.3 1213.6 L770.3 1217.4 L771.4 1217.4 L772.5 1221.2 L776.8 1221.2 L777.9 1217.4 L780.0 1217.4 L781.1 1213.6 L783.2 1213.6 L784.3 1217.4 L788.6 1217.4 L789.7 1213.6 L792.9 1213.6 L794.0 1209.8 L795.0 1209.8 L796.1 1206.1 L801.5 1206.1 L802.5 1202.3 L804.7 1202.3 L805.8 1198.5 L806.8 1198.5 L807.9 1194.7 L813.3 1194.7 L814.4 1191.0 L815.4 1187.2 L816.5 1183.4 L819.7 1183.4 L820.8 1179.6 L821.9 1179.6 L822.9 1175.9 L824.0 1175.9 L825.1 1172.1 L826.2 1172.1 L827.2 1168.3 L828.3 1164.5 L829.4 1164.5 L830.5 1160.8 L831.5 1157.0 L832.6 1157.0 L833.7 1153.2 L834.8 1149.4 L835.8 1149.4 L836.9 1145.7 L838.0 1141.9 L839.1 1141.9 L840.1 1138.1 L841.2 1134.3 L842.3 1134.3 L843.3 1130.6 L845.5 1130.6 L846.6 1126.8 L847.6 1123.0 L848.7 1119.2 L849.8 1115.5 L850.9 1111.7 L851.9 1107.9 L853.0 1107.9 L854.1 1104.1 L855.2 1100.3 L856.2 1096.6 L857.3 1092.8 L858.4 1089.0 L859.4 1085.2 L860.5 1081.5 L861.6 1077.7 L862.7 1073.9 L863.7 1070.1 L864.8 1066.4 L865.9 1062.6 L867.0 1058.8 L868.0 1055.0 L869.1 1055.0 L870.2 1051.3 L871.3 1047.5 L872.3 1043.7 L873.4 1039.9 L874.5 1036.2 L875.6 1032.4 L876.6 1028.6 L877.7 1028.6 L878.8 1024.8 L879.8 1021.1 L880.9 1017.3 L882.0 1013.5 L883.1 1009.7 L884.1 1006.0 L885.2 1002.2 L886.3 998.4 L887.4 994.6 L888.4 990.9 L889.5 987.1 L890.6 983.3 L891.7 979.5 L892.7 975.8 L893.8 972.0 L894.9 964.4 L896.0 960.7 L897.0 956.9 L898.1 953.1 L899.2 949.3 L900.2 941.8 L901.3 938.0 L902.4 934.2 L903.5 930.4 L904.5 922.9 L905.6 919.1 L906.7 915.3 L907.8 911.6 L908.8 904.0 L909.9 900.2 L911.0 896.5 L912.1 888.9 L913.1 885.1 L914.2 881.4 L915.3 873.8 L916.3 870.0 L917.4 866.3 L918.5 862.5 L919.6 854.9 L920.6 851.2 L921.7 843.6 L922.8 839.8 L923.9 832.3 L924.9 828.5 L926.0 821.0 L927.1 817.2 L928.2 809.6 L929.2 805.8 L930.3 798.3 L931.4 794.5 L932.5 787.0 L933.5 783.2 L934.6 775.6 L935.7 771.9 L936.7 764.3 L937.8 760.5 L938.9 756.8 L940.0 749.2 L941.0 745.4 L942.1 741.7 L943.2 737.9 L944.3 730.3 L945.3 726.6 L946.4 719.0 L947.5 711.5 L948.6 707.7 L949.6 700.1 L950.7 692.6 L951.8 688.8 L952.9 685.0 L953.9 677.5 L955.0 673.7 L956.1 669.9 L957.1 662.4 L958.2 658.6 L959.3 654.8 L960.4 647.3 L961.4 643.5 L962.5 635.9 L963.6 632.2 L964.7 624.6 L965.7 620.8 L966.8 617.1 L967.9 613.3 L969.0 605.7 L970.0 602.0 L971.1 598.2 L972.2 594.4 L973.2 586.9 L974.3 583.1 L975.4 579.3 L976.5 575.5 L977.5 568.0 L978.6 564.2 L979.7 560.4 L980.8 556.7 L981.8 549.1 L982.9 545.3 L984.0 541.6 L985.1 534.0 L986.1 530.2 L987.2 526.5 L988.3 518.9 L989.4 515.1 L990.4 511.4 L991.5 507.6 L992.6 500.0 L993.6 496.2 L994.7 492.5 L995.8 488.7 L996.9 484.9 L997.9 481.1 L999.0 477.4 L1000.1 473.6 L1001.2 469.8 L1002.2 466.0 L1003.3 462.3 L1004.4 458.5 L1005.5 454.7 L1006.5 450.9 L1007.6 447.2 L1008.7 443.4 L1009.7 439.6 L1010.8 439.6 L1011.9 435.8 L1013.0 435.8 L1014.0 432.1 L1015.1 428.3 L1016.2 428.3 L1017.3 424.5 L1018.3 424.5 L1019.4 420.7 L1020.5 420.7 L1021.6 417.0 L1022.6 417.0 L1023.7 413.2 L1024.8 413.2 L1025.9 409.4 L1028.0 409.4 L1029.1 405.6 L1038.7 405.6 L1039.8 401.9 L1042.0 401.9 L1043.0 405.6 L1044.1 405.6 L1045.2 409.4 L1048.4 409.4 L1049.5 413.2 L1050.5 413.2 L1051.6 417.0 L1052.7 420.7 L1053.8 420.7 L1054.8 424.5 L1055.9 424.5 L1057.0 428.3 L1058.1 428.3 L1059.1 432.1 L1060.2 432.1 L1061.3 435.8 L1062.4 435.8 L1063.4 439.6 L1064.5 439.6 L1065.6 443.4 L1066.6 447.2 L1067.7 447.2 L1068.8 450.9 L1069.9 450.9 L1070.9 454.7 L1072.0 458.5 L1073.1 462.3 L1074.2 466.0 L1075.2 469.8 L1076.3 473.6 L1077.4 477.4 L1078.5 481.1 L1079.5 484.9 L1080.6 488.7 L1081.7 492.5 L1082.8 496.2 L1083.8 503.8 L1084.9 507.6 L1086.0 511.4 L1087.0 515.1 L1088.1 522.7 L1089.2 526.5 L1090.3 530.2 L1091.3 534.0 L1092.4 537.8 L1093.5 541.6 L1094.6 549.1 L1095.6 552.9 L1096.7 556.7 L1097.8 560.4 L1098.9 564.2 L1099.9 571.8 L1101.0 575.5 L1102.1 583.1 L1103.2 586.9 L1104.2 590.6 L1105.3 598.2 L1106.4 602.0 L1107.4 609.5 L1108.5 613.3 L1109.6 617.1 L1110.7 624.6 L1111.7 628.4 L1112.8 632.2 L1113.9 639.7 L1115.0 643.5 L1116.0 647.3 L1117.1 654.8 L1118.2 658.6 L1119.3 666.2 L1120.3 669.9 L1121.4 673.7 L1122.5 681.3 L1123.5 685.0 L1124.6 688.8 L1125.7 696.4 L1126.8 700.1 L1127.8 703.9 L1128.9 711.5 L1130.0 715.2 L1131.1 722.8 L1132.1 726.6 L1133.2 730.3 L1134.3 737.9 L1135.4 741.7 L1136.4 745.4 L1137.5 749.2 L1138.6 756.8 L1139.7 760.5 L1140.7 764.3 L1141.8 771.9 L1142.9 775.6 L1143.9 779.4 L1145.0 787.0 L1146.1 790.7 L1147.2 794.5 L1148.2 798.3 L1149.3 805.8 L1150.4 809.6 L1151.5 813.4 L1152.5 817.2 L1153.6 824.7 L1154.7 828.5 L1155.8 832.3 L1156.8 839.8 L1157.9 843.6 L1159.0 847.4 L1160.0 854.9 L1161.1 858.7 L1162.2 858.7 L1163.3 862.5 L1164.3 866.3 L1165.4 870.0 L1166.5 873.8 L1167.6 877.6 L1168.6 881.4 L1169.7 885.1 L1170.8 888.9 L1171.9 892.7 L1172.9 896.5 L1174.0 900.2 L1175.1 904.0 L1176.2 907.8 L1177.2 911.6 L1178.3 911.6 L1179.4 915.3 L1180.4 919.1 L1181.5 922.9 L1182.6 922.9 L1183.7 926.7 L1184.7 930.4 L1185.8 930.4 L1186.9 934.2 L1188.0 938.0 L1189.0 941.8 L1190.1 941.8 L1191.2 945.5 L1192.3 949.3 L1193.3 949.3 L1194.4 953.1 L1195.5 956.9 L1196.6 956.9 L1197.6 960.7 L1198.7 960.7 L1199.8 964.4 L1200.8 968.2 L1201.9 972.0 L1203.0 975.8 L1204.1 975.8 L1205.1 979.5 L1206.2 983.3 L1207.3 983.3 L1208.4 987.1 L1209.4 987.1 L1210.5 990.9 L1211.6 990.9 L1212.7 994.6 L1213.7 994.6 L1214.8 998.4 L1215.9 998.4 L1216.9 1002.2 L1219.1 1002.2 L1220.2 1006.0 L1222.3 1006.0 L1223.4 1009.7 L1225.5 1009.7 L1226.6 1013.5 L1228.8 1013.5 L1229.8 1017.3 L1232.0 1017.3 L1233.1 1021.1 L1235.2 1021.1 L1236.3 1024.8 L1239.5 1024.8 L1240.6 1028.6 L1242.7 1028.6 L1243.8 1032.4 L1247.0 1032.4 L1248.1 1036.2 L1252.4 1036.2 L1253.5 1039.9 L1269.6 1039.9 L1270.6 1043.7 L1276.0 1043.7 L1277.1 1039.9 L1280.3 1039.9 L1281.4 1036.2 L1291.0 1036.2 L1292.1 1032.4 L1294.2 1032.4 L1295.3 1028.6 L1301.8 1028.6 L1302.8 1024.8 L1305.0 1024.8 L1306.1 1021.1 L1308.2 1021.1 L1309.3 1017.3 L1314.6 1017.3 L1315.7 1013.5 L1317.9 1013.5 L1318.9 1009.7 L1321.1 1009.7 L1322.2 1006.0 L1326.5 1006.0 L1327.5 1002.2 L1330.7 1002.2 L1331.8 998.4 L1335.0 998.4 L1336.1 994.6 L1341.5 994.6 L1342.6 990.9 L1344.7 990.9 L1345.8 987.1 L1346.9 987.1 L1347.9 990.9 L1355.4 990.9 L1356.5 987.1 L1366.2 987.1 L1367.2 990.9 L1370.5 990.9 L1371.5 987.1 L1372.6 987.1 L1373.7 990.9 L1383.4 990.9 L1384.4 994.6 L1393.0 994.6 L1394.1 998.4 L1399.5 998.4 L1400.5 1002.2 L1407.0 1002.2 L1408.0 1006.0 L1409.1 1006.0 L1410.2 1009.7 L1413.4 1009.7 L1414.5 1013.5 L1416.6 1013.5 L1417.7 1017.3 L1419.9 1017.3 L1420.9 1021.1 L1426.3 1021.1 L1427.4 1024.8 L1430.6 1024.8 L1431.7 1028.6 L1432.7 1028.6 L1433.8 1032.4 L1434.9 1032.4 L1436.0 1036.2 L1437.0 1036.2 L1438.1 1039.9 L1441.3 1039.9 L1442.4 1043.7 L1443.5 1043.7 L1444.5 1047.5 L1445.6 1047.5 L1446.7 1051.3 L1447.8 1051.3 L1448.8 1055.0 L1449.9 1055.0 L1451.0 1058.8 L1452.1 1058.8 L1453.1 1062.6 L1454.2 1062.6 L1455.3 1066.4 L1457.4 1066.4 L1458.5 1070.1 L1459.6 1070.1 L1460.6 1073.9 L1461.7 1073.9 L1462.8 1077.7 L1463.9 1081.5 L1464.9 1081.5 L1466.0 1085.2 L1467.1 1089.0 L1468.2 1089.0 L1469.2 1092.8 L1470.3 1092.8 L1471.4 1096.6 L1472.5 1100.3 L1473.5 1100.3 L1474.6 1104.1 L1475.7 1104.1 L1476.8 1107.9 L1477.8 1111.7 L1478.9 1111.7 L1480.0 1115.5 L1481.0 1119.2 L1482.1 1119.2 L1483.2 1123.0 L1484.3 1126.8 L1485.3 1130.6 L1486.4 1134.3 L1487.5 1134.3 L1488.6 1138.1 L1489.6 1138.1 L1490.7 1141.9 L1491.8 1145.7 L1492.9 1145.7 L1493.9 1149.4 L1495.0 1157.0 L1496.1 1160.8 L1497.2 1160.8 L1498.2 1164.5 L1499.3 1164.5 L1500.4 1168.3 L1501.4 1168.3 L1502.5 1172.1 L1503.6 1175.9 L1504.7 1179.6 L1505.7 1183.4 L1506.8 1187.2 L1507.9 1187.2 L1509.0 1191.0 L1510.0 1194.7 L1511.1 1198.5 L1512.2 1206.1 L1513.3 1206.1 L1514.3 1209.8 L1515.4 1209.8 L1516.5 1213.6 L1517.5 1217.4 L1518.6 1221.2 L1519.7 1224.9 L1520.8 1232.5 L1521.8 1232.5 L1522.9 1236.3 L1524.0 1240.0 L1525.1 1240.0 L1526.1 1243.8 L1527.2 1247.6 L1528.3 1251.4 L1529.4 1258.9 L1530.4 1262.7 L1531.5 1262.7 L1532.6 1266.5 L1533.7 1266.5 L1534.7 1270.3 L1535.8 1274.0 L1536.9 1277.8 L1537.9 1277.8 L1539.0 1281.6 L1540.1 1285.4 L1541.2 1289.1 L1542.2 1292.9 L1543.3 1296.7 L1544.4 1300.5 L1545.5 1304.2 L1546.5 1304.2 L1547.6 1308.0 L1548.7 1308.0 L1549.8 1311.8 L1550.8 1311.8 L1551.9 1315.6 L1553.0 1319.3 L1554.0 1323.1 L1555.1 1326.9 L1556.2 1330.7 L1557.3 1334.4 L1558.3 1338.2 L1559.4 1342.0 L1560.5 1342.0 L1561.6 1345.8 L1562.6 1349.5 L1563.7 1353.3 L1564.8 1357.1 L1565.9 1357.1 L1566.9 1360.9 L1568.0 1360.9 L1569.1 1364.6 L1570.2 1364.6 L1571.2 1368.4 L1572.3 1368.4 L1573.4 1372.2 L1574.4 1376.0 L1575.5 1379.7 L1576.6 1383.5 L1577.7 1387.3 L1578.7 1391.1 L1579.8 1394.8 L1580.9 1398.6 L1582.0 1402.4 L1583.0 1406.2 L1587.3 1406.2 L1588.4 1409.9 L1589.5 1409.9 L1590.6 1413.7 L1591.6 1417.5 L1592.7 1421.3 L1593.8 1421.3 L1594.8 1425.1 L1599.1 1425.1 L1600.2 1428.8 L1601.3 1432.6 L1602.4 1432.6 L1603.4 1436.4 L1607.7 1436.4 L1608.8 1440.2 L1609.9 1440.2 L1610.9 1443.9 L1612.0 1443.9 L1613.1 1447.7 L1614.2 1451.5 L1615.2 1455.3 L1617.4 1455.3 L1618.5 1459.0 L1620.6 1459.0 L1621.7 1462.8 L1626.0 1462.8 L1627.1 1466.6 L1628.1 1466.6 L1629.2 1470.4 L1631.3 1470.4 L1632.4 1466.6 L1633.5 1466.6 L1634.6 1470.4 L1635.6 1474.1 L1636.7 1477.9 L1638.9 1477.9 L1639.9 1481.7 L1642.1 1481.7 L1643.2 1485.5 L1646.4 1485.5 L1647.5 1489.2 L1653.9 1489.2 L1655.0 1493.0 L1658.2 1493.0 L1659.3 1496.8 L1662.5 1496.8 L1663.6 1500.6 L1665.7 1500.6 L1666.8 1504.3 L1670.0 1504.3 L1671.1 1508.1 L1675.4 1508.1 L1676.4 1504.3 L1679.7 1504.3 L1680.7 1508.1 L1682.9 1508.1 L1684.0 1511.9 L1685.0 1511.9 L1686.1 1515.7 L1687.2 1515.7 L1688.2 1519.4 L1689.3 1523.2 L1693.6 1523.2 L1694.7 1519.4 L1695.8 1519.4 L1696.8 1515.7 L1697.9 1515.7 L1699.0 1511.9 L1700.1 1511.9 L1701.1 1508.1 L1703.3 1508.1 L1704.3 1511.9 L1705.4 1511.9 L1706.5 1515.7 L1707.6 1515.7 L1708.6 1519.4 L1709.7 1519.4 L1710.8 1523.2 L1719.4 1523.2 L1720.5 1519.4 L1721.5 1519.4 L1722.6 1523.2 L1723.7 1523.2 L1724.7 1527.0 L1725.8 1527.0 L1726.9 1530.8 L1728.0 1530.8 L1729.0 1527.0 L1730.1 1527.0 L1731.2 1523.2 L1732.3 1519.4 L1733.3 1519.4 L1734.4 1515.7 L1735.5 1519.4 L1736.6 1523.2 L1737.6 1530.8 L1738.7 1527.0 L1739.8 1523.2 L1740.9 1519.4 L1741.9 1515.7 L1743.0 1515.7 L1744.1 1523.2 L1745.1 1530.8 L1746.2 1534.5 L1747.3 1538.3 L1748.4 1534.5 L1749.4 1534.5 L1750.5 1530.8 L1751.6 1527.0 L1754.8 1527.0 L1755.9 1530.8 L1759.1 1530.8 L1760.2 1527.0 L1762.3 1527.0 L1763.4 1530.8 L1764.5 1534.5 L1765.5 1542.1 L1766.6 1549.6 L1767.7 1549.6 L1768.8 1545.9 L1769.8 1542.1 L1770.9 1534.5 L1772.0 1527.0 L1773.1 1519.4 L1774.1 1511.9 L1775.2 1508.1 L1776.3 1515.7 L1777.0 1519.8"/>
<path class="cv" stroke="#37AD6B" d="M346.1 57.0 L346.3 65.8 L347.4 111.1 L348.4 141.3 L349.5 167.8 L350.6 194.2 L351.6 224.4 L352.7 250.8 L353.8 281.0 L354.9 311.2 L355.9 337.7 L357.0 360.3 L358.1 386.8 L359.2 413.2 L360.2 439.6 L361.3 462.3 L362.4 484.9 L363.5 503.8 L364.5 518.9 L365.6 530.2 L366.7 545.3 L367.8 556.7 L368.8 571.8 L369.9 583.1 L371.0 598.2 L372.0 613.3 L373.1 628.4 L374.2 643.5 L375.3 658.6 L376.3 666.2 L377.4 669.9 L378.5 677.5 L379.6 685.0 L380.6 692.6 L381.7 700.1 L382.8 707.7 L383.9 715.2 L384.9 722.8 L386.0 726.6 L387.1 734.1 L388.2 737.9 L389.2 745.4 L390.3 753.0 L391.4 760.5 L392.4 768.1 L393.5 771.9 L394.6 775.6 L395.7 779.4 L396.7 787.0 L397.8 790.7 L398.9 794.5 L400.0 798.3 L401.0 802.1 L402.1 805.8 L403.2 809.6 L404.3 813.4 L405.3 817.2 L406.4 821.0 L407.5 824.7 L408.5 828.5 L415.0 828.5 L416.1 832.3 L420.4 832.3 L421.4 828.5 L422.5 828.5 L423.6 824.7 L424.7 824.7 L425.7 821.0 L427.9 821.0 L428.9 824.7 L430.0 824.7 L431.1 821.0 L432.2 817.2 L435.4 817.2 L436.5 813.4 L437.5 809.6 L438.6 805.8 L439.7 802.1 L456.9 802.1 L457.9 805.8 L460.1 805.8 L461.2 809.6 L462.2 809.6 L463.3 805.8 L465.4 805.8 L466.5 809.6 L467.6 809.6 L468.7 813.4 L469.7 813.4 L470.8 817.2 L471.9 817.2 L473.0 821.0 L480.5 821.0 L481.6 824.7 L482.6 828.5 L483.7 828.5 L484.8 832.3 L485.8 828.5 L489.1 828.5 L490.1 832.3 L491.2 832.3 L492.3 836.1 L493.4 836.1 L494.4 839.8 L495.5 843.6 L496.6 843.6 L497.7 847.4 L499.8 847.4 L500.9 851.2 L506.2 851.2 L507.3 854.9 L508.4 858.7 L509.5 862.5 L510.5 866.3 L511.6 873.8 L512.7 877.6 L513.8 885.1 L514.8 888.9 L515.9 896.5 L517.0 904.0 L518.1 907.8 L519.1 911.6 L520.2 919.1 L521.3 922.9 L522.3 926.7 L523.4 934.2 L524.5 941.8 L525.6 945.5 L526.6 953.1 L527.7 956.9 L528.8 964.4 L529.9 968.2 L530.9 975.8 L532.0 979.5 L533.1 983.3 L534.2 990.9 L535.2 994.6 L536.3 998.4 L537.4 1002.2 L538.5 1006.0 L539.5 1013.5 L540.6 1017.3 L541.7 1021.1 L542.7 1028.6 L543.8 1032.4 L544.9 1039.9 L546.0 1043.7 L547.0 1051.3 L548.1 1058.8 L549.2 1062.6 L550.3 1066.4 L551.3 1066.4 L552.4 1070.1 L553.5 1073.9 L554.6 1081.5 L555.6 1085.2 L556.7 1092.8 L557.8 1096.6 L558.8 1100.3 L559.9 1104.1 L561.0 1107.9 L562.1 1104.1 L563.1 1104.1 L564.2 1100.3 L565.3 1100.3 L566.4 1104.1 L567.4 1107.9 L568.5 1107.9 L569.6 1111.7 L570.7 1115.5 L571.7 1119.2 L572.8 1123.0 L573.9 1119.2 L575.0 1119.2 L576.0 1115.5 L577.1 1111.7 L579.2 1111.7 L580.3 1115.5 L581.4 1111.7 L582.5 1111.7 L583.5 1115.5 L584.6 1115.5 L585.7 1119.2 L586.8 1119.2 L587.8 1123.0 L588.9 1123.0 L590.0 1119.2 L592.1 1119.2 L593.2 1115.5 L595.4 1115.5 L596.4 1111.7 L597.5 1107.9 L598.6 1107.9 L599.6 1104.1 L600.7 1100.3 L601.8 1100.3 L602.9 1104.1 L603.9 1104.1 L605.0 1107.9 L606.1 1111.7 L608.2 1111.7 L609.3 1107.9 L610.4 1104.1 L611.5 1100.3 L612.5 1104.1 L613.6 1111.7 L619.0 1111.7 L620.0 1107.9 L628.6 1107.9 L629.7 1111.7 L630.8 1111.7 L631.9 1115.5 L632.9 1119.2 L634.0 1119.2 L635.1 1123.0 L636.1 1126.8 L637.2 1123.0 L640.4 1123.0 L641.5 1126.8 L642.6 1126.8 L643.7 1130.6 L644.7 1134.3 L645.8 1134.3 L646.9 1138.1 L648.0 1138.1 L649.0 1141.9 L651.2 1141.9 L652.2 1145.7 L653.3 1145.7 L654.4 1149.4 L656.5 1149.4 L657.6 1153.2 L658.7 1153.2 L659.8 1157.0 L660.8 1160.8 L661.9 1160.8 L663.0 1164.5 L664.1 1168.3 L665.1 1172.1 L666.2 1172.1 L667.3 1175.9 L669.4 1175.9 L670.5 1179.6 L671.6 1179.6 L672.6 1183.4 L673.7 1183.4 L674.8 1187.2 L680.2 1187.2 L681.2 1191.0 L682.3 1194.7 L683.4 1202.3 L685.5 1202.3 L686.6 1206.1 L687.7 1206.1 L688.8 1209.8 L690.9 1209.8 L692.0 1213.6 L694.1 1213.6 L695.2 1217.4 L696.3 1217.4 L697.3 1221.2 L698.4 1221.2 L699.5 1224.9 L700.6 1224.9 L701.6 1228.7 L702.7 1228.7 L703.8 1232.5 L704.9 1232.5 L705.9 1236.3 L707.0 1236.3 L708.1 1240.0 L710.2 1240.0 L711.3 1243.8 L712.4 1243.8 L713.4 1247.6 L715.6 1247.6 L716.7 1251.4 L718.8 1251.4 L719.9 1255.1 L721.0 1255.1 L722.0 1258.9 L723.1 1258.9 L724.2 1262.7 L727.4 1262.7 L728.5 1266.5 L731.7 1266.5 L732.8 1270.3 L733.8 1270.3 L734.9 1274.0 L737.1 1274.0 L738.1 1277.8 L741.4 1277.8 L742.4 1274.0 L747.8 1274.0 L748.9 1277.8 L749.9 1281.6 L751.0 1281.6 L752.1 1285.4 L767.1 1285.4 L768.2 1289.1 L769.3 1285.4 L773.6 1285.4 L774.6 1289.1 L776.8 1289.1 L777.9 1292.9 L781.1 1292.9 L782.2 1289.1 L791.8 1289.1 L792.9 1285.4 L798.3 1285.4 L799.3 1281.6 L800.4 1281.6 L801.5 1277.8 L803.6 1277.8 L804.7 1274.0 L811.1 1274.0 L812.2 1270.3 L813.3 1270.3 L814.4 1266.5 L815.4 1266.5 L816.5 1262.7 L818.7 1262.7 L819.7 1258.9 L827.2 1258.9 L828.3 1255.1 L829.4 1255.1 L830.5 1251.4 L831.5 1251.4 L832.6 1247.6 L833.7 1243.8 L834.8 1243.8 L835.8 1240.0 L836.9 1240.0 L838.0 1236.3 L842.3 1236.3 L843.3 1232.5 L844.4 1228.7 L845.5 1228.7 L846.6 1224.9 L847.6 1221.2 L848.7 1217.4 L849.8 1217.4 L850.9 1213.6 L851.9 1213.6 L853.0 1209.8 L854.1 1206.1 L855.2 1206.1 L856.2 1202.3 L857.3 1198.5 L860.5 1198.5 L861.6 1194.7 L862.7 1191.0 L863.7 1187.2 L864.8 1183.4 L865.9 1179.6 L867.0 1175.9 L868.0 1175.9 L869.1 1172.1 L870.2 1168.3 L871.3 1168.3 L872.3 1164.5 L873.4 1164.5 L874.5 1160.8 L875.6 1157.0 L876.6 1157.0 L877.7 1153.2 L878.8 1153.2 L879.8 1149.4 L880.9 1149.4 L882.0 1145.7 L883.1 1141.9 L884.1 1141.9 L885.2 1138.1 L886.3 1134.3 L887.4 1134.3 L888.4 1130.6 L889.5 1126.8 L890.6 1126.8 L891.7 1123.0 L892.7 1119.2 L893.8 1119.2 L894.9 1115.5 L896.0 1111.7 L897.0 1107.9 L898.1 1104.1 L899.2 1104.1 L900.2 1100.3 L901.3 1096.6 L902.4 1096.6 L903.5 1092.8 L904.5 1089.0 L905.6 1085.2 L906.7 1085.2 L907.8 1081.5 L908.8 1077.7 L909.9 1073.9 L911.0 1073.9 L912.1 1070.1 L913.1 1066.4 L914.2 1058.8 L915.3 1055.0 L916.3 1047.5 L917.4 1043.7 L918.5 1043.7 L919.6 1039.9 L920.6 1036.2 L921.7 1032.4 L922.8 1028.6 L923.9 1024.8 L924.9 1021.1 L926.0 1017.3 L927.1 1013.5 L928.2 1009.7 L929.2 1006.0 L930.3 1006.0 L931.4 998.4 L932.5 994.6 L933.5 990.9 L934.6 983.3 L935.7 979.5 L936.7 975.8 L937.8 972.0 L938.9 968.2 L940.0 964.4 L941.0 960.7 L942.1 956.9 L943.2 949.3 L944.3 945.5 L945.3 941.8 L946.4 938.0 L947.5 934.2 L948.6 930.4 L949.6 922.9 L950.7 919.1 L951.8 915.3 L952.9 911.6 L953.9 907.8 L955.0 900.2 L956.1 896.5 L957.1 892.7 L958.2 885.1 L959.3 881.4 L960.4 877.6 L961.4 870.0 L962.5 866.3 L963.6 862.5 L964.7 858.7 L965.7 851.2 L966.8 847.4 L967.9 843.6 L969.0 839.8 L970.0 832.3 L971.1 828.5 L972.2 824.7 L973.2 821.0 L974.3 813.4 L975.4 809.6 L976.5 805.8 L977.5 802.1 L978.6 798.3 L979.7 790.7 L980.8 787.0 L981.8 783.2 L982.9 779.4 L984.0 771.9 L985.1 768.1 L986.1 768.1 L987.2 764.3 L988.3 760.5 L989.4 753.0 L990.4 745.4 L991.5 737.9 L992.6 734.1 L993.6 730.3 L994.7 726.6 L995.8 719.0 L996.9 715.2 L997.9 711.5 L999.0 707.7 L1000.1 703.9 L1001.2 700.1 L1002.2 696.4 L1003.3 692.6 L1004.4 685.0 L1005.5 681.3 L1006.5 677.5 L1007.6 673.7 L1008.7 669.9 L1009.7 666.2 L1010.8 662.4 L1011.9 654.8 L1013.0 651.0 L1014.0 647.3 L1015.1 643.5 L1016.2 643.5 L1017.3 639.7 L1018.3 635.9 L1019.4 632.2 L1020.5 628.4 L1021.6 624.6 L1022.6 620.8 L1023.7 617.1 L1024.8 617.1 L1025.9 613.3 L1026.9 609.5 L1028.0 609.5 L1029.1 605.7 L1030.1 602.0 L1033.4 602.0 L1034.4 598.2 L1037.7 598.2 L1038.7 594.4 L1039.8 594.4 L1040.9 590.6 L1042.0 586.9 L1061.3 586.9 L1062.4 590.6 L1066.6 590.6 L1067.7 594.4 L1069.9 594.4 L1070.9 598.2 L1074.2 598.2 L1075.2 602.0 L1076.3 605.7 L1077.4 609.5 L1078.5 609.5 L1079.5 613.3 L1080.6 613.3 L1081.7 617.1 L1082.8 617.1 L1083.8 620.8 L1084.9 624.6 L1086.0 628.4 L1087.0 628.4 L1088.1 632.2 L1089.2 632.2 L1090.3 635.9 L1091.3 635.9 L1092.4 639.7 L1093.5 643.5 L1094.6 647.3 L1095.6 651.0 L1096.7 654.8 L1097.8 658.6 L1098.9 666.2 L1099.9 669.9 L1101.0 673.7 L1102.1 677.5 L1103.2 681.3 L1104.2 685.0 L1105.3 685.0 L1106.4 688.8 L1107.4 692.6 L1108.5 696.4 L1109.6 700.1 L1110.7 703.9 L1111.7 711.5 L1112.8 715.2 L1113.9 719.0 L1115.0 722.8 L1116.0 726.6 L1117.1 734.1 L1118.2 737.9 L1119.3 741.7 L1120.3 745.4 L1121.4 749.2 L1122.5 749.2 L1123.5 753.0 L1124.6 756.8 L1125.7 760.5 L1126.8 764.3 L1127.8 768.1 L1128.9 771.9 L1130.0 775.6 L1131.1 779.4 L1132.1 787.0 L1133.2 790.7 L1134.3 794.5 L1135.4 798.3 L1136.4 805.8 L1137.5 809.6 L1138.6 813.4 L1139.7 817.2 L1140.7 821.0 L1141.8 824.7 L1142.9 828.5 L1143.9 832.3 L1145.0 832.3 L1146.1 836.1 L1147.2 843.6 L1148.2 847.4 L1149.3 851.2 L1150.4 854.9 L1151.5 858.7 L1152.5 858.7 L1153.6 862.5 L1154.7 866.3 L1155.8 870.0 L1156.8 873.8 L1157.9 877.6 L1159.0 881.4 L1160.0 885.1 L1161.1 885.1 L1162.2 888.9 L1163.3 892.7 L1164.3 896.5 L1165.4 896.5 L1166.5 900.2 L1167.6 904.0 L1168.6 907.8 L1169.7 911.6 L1170.8 915.3 L1171.9 915.3 L1172.9 919.1 L1174.0 922.9 L1175.1 926.7 L1176.2 926.7 L1177.2 930.4 L1178.3 934.2 L1179.4 934.2 L1180.4 938.0 L1181.5 938.0 L1182.6 941.8 L1183.7 945.5 L1184.7 945.5 L1185.8 949.3 L1186.9 949.3 L1188.0 953.1 L1189.0 956.9 L1191.2 956.9 L1192.3 960.7 L1194.4 960.7 L1195.5 964.4 L1197.6 964.4 L1198.7 968.2 L1200.8 968.2 L1201.9 972.0 L1203.0 975.8 L1204.1 975.8 L1205.1 979.5 L1207.3 979.5 L1208.4 983.3 L1210.5 983.3 L1211.6 987.1 L1213.7 987.1 L1214.8 990.9 L1216.9 990.9 L1218.0 994.6 L1221.2 994.6 L1222.3 998.4 L1226.6 998.4 L1227.7 1002.2 L1232.0 1002.2 L1233.1 1006.0 L1239.5 1006.0 L1240.6 1009.7 L1249.2 1009.7 L1250.2 1013.5 L1256.7 1013.5 L1257.7 1009.7 L1265.3 1009.7 L1266.3 1006.0 L1272.8 1006.0 L1273.8 1002.2 L1276.0 1002.2 L1277.1 998.4 L1279.2 998.4 L1280.3 994.6 L1285.7 994.6 L1286.7 990.9 L1287.8 990.9 L1288.9 987.1 L1291.0 987.1 L1292.1 983.3 L1294.2 983.3 L1295.3 979.5 L1296.4 979.5 L1297.5 975.8 L1298.5 975.8 L1299.6 972.0 L1302.8 972.0 L1303.9 968.2 L1306.1 968.2 L1307.1 964.4 L1308.2 964.4 L1309.3 960.7 L1311.4 960.7 L1312.5 956.9 L1314.6 956.9 L1315.7 953.1 L1317.9 953.1 L1318.9 949.3 L1321.1 949.3 L1322.2 945.5 L1324.3 945.5 L1325.4 941.8 L1328.6 941.8 L1329.7 938.0 L1332.9 938.0 L1334.0 934.2 L1336.1 934.2 L1337.2 930.4 L1339.3 930.4 L1340.4 926.7 L1341.5 926.7 L1342.6 922.9 L1355.4 922.9 L1356.5 919.1 L1361.9 919.1 L1363.0 922.9 L1372.6 922.9 L1373.7 919.1 L1375.8 919.1 L1376.9 922.9 L1379.1 922.9 L1380.1 926.7 L1382.3 926.7 L1383.4 922.9 L1386.6 922.9 L1387.6 926.7 L1389.8 926.7 L1390.9 930.4 L1393.0 930.4 L1394.1 934.2 L1400.5 934.2 L1401.6 938.0 L1408.0 938.0 L1409.1 941.8 L1410.2 941.8 L1411.3 945.5 L1412.3 945.5 L1413.4 949.3 L1414.5 949.3 L1415.6 953.1 L1420.9 953.1 L1422.0 956.9 L1424.1 956.9 L1425.2 960.7 L1426.3 960.7 L1427.4 964.4 L1428.4 964.4 L1429.5 968.2 L1431.7 968.2 L1432.7 972.0 L1434.9 972.0 L1436.0 975.8 L1437.0 975.8 L1438.1 979.5 L1439.2 979.5 L1440.3 983.3 L1441.3 983.3 L1442.4 987.1 L1443.5 987.1 L1444.5 990.9 L1445.6 990.9 L1446.7 994.6 L1447.8 998.4 L1448.8 1002.2 L1449.9 1006.0 L1451.0 1006.0 L1452.1 1009.7 L1453.1 1013.5 L1454.2 1013.5 L1455.3 1017.3 L1457.4 1017.3 L1458.5 1021.1 L1459.6 1024.8 L1460.6 1024.8 L1461.7 1028.6 L1462.8 1032.4 L1463.9 1032.4 L1464.9 1036.2 L1466.0 1036.2 L1467.1 1039.9 L1468.2 1043.7 L1469.2 1047.5 L1470.3 1051.3 L1471.4 1051.3 L1472.5 1055.0 L1473.5 1058.8 L1474.6 1058.8 L1475.7 1062.6 L1476.8 1066.4 L1477.8 1066.4 L1478.9 1070.1 L1480.0 1073.9 L1481.0 1073.9 L1482.1 1077.7 L1483.2 1081.5 L1484.3 1085.2 L1485.3 1092.8 L1486.4 1096.6 L1487.5 1100.3 L1488.6 1104.1 L1489.6 1104.1 L1490.7 1107.9 L1491.8 1111.7 L1492.9 1115.5 L1493.9 1123.0 L1495.0 1126.8 L1496.1 1130.6 L1497.2 1130.6 L1498.2 1134.3 L1499.3 1138.1 L1500.4 1141.9 L1501.4 1145.7 L1502.5 1149.4 L1503.6 1153.2 L1504.7 1157.0 L1505.7 1160.8 L1506.8 1164.5 L1507.9 1168.3 L1509.0 1172.1 L1510.0 1175.9 L1511.1 1179.6 L1512.2 1183.4 L1513.3 1187.2 L1514.3 1191.0 L1515.4 1194.7 L1516.5 1198.5 L1517.5 1202.3 L1518.6 1206.1 L1519.7 1209.8 L1520.8 1213.6 L1521.8 1217.4 L1522.9 1221.2 L1524.0 1224.9 L1525.1 1232.5 L1526.1 1236.3 L1527.2 1240.0 L1528.3 1243.8 L1529.4 1247.6 L1530.4 1251.4 L1531.5 1255.1 L1532.6 1255.1 L1533.7 1258.9 L1534.7 1262.7 L1535.8 1266.5 L1536.9 1270.3 L1537.9 1274.0 L1539.0 1277.8 L1540.1 1281.6 L1541.2 1289.1 L1542.2 1292.9 L1543.3 1296.7 L1544.4 1300.5 L1545.5 1304.2 L1546.5 1308.0 L1547.6 1311.8 L1548.7 1319.3 L1549.8 1323.1 L1550.8 1326.9 L1551.9 1330.7 L1553.0 1334.4 L1554.0 1338.2 L1555.1 1342.0 L1556.2 1345.8 L1557.3 1345.8 L1558.3 1349.5 L1559.4 1353.3 L1560.5 1357.1 L1561.6 1360.9 L1562.6 1364.6 L1563.7 1368.4 L1564.8 1372.2 L1565.9 1376.0 L1568.0 1376.0 L1569.1 1379.7 L1570.2 1379.7 L1571.2 1383.5 L1572.3 1387.3 L1573.4 1391.1 L1574.4 1394.8 L1575.5 1398.6 L1576.6 1402.4 L1577.7 1406.2 L1578.7 1409.9 L1579.8 1409.9 L1580.9 1413.7 L1583.0 1413.7 L1584.1 1417.5 L1585.2 1421.3 L1586.3 1421.3 L1587.3 1425.1 L1588.4 1428.8 L1589.5 1432.6 L1590.6 1432.6 L1591.6 1436.4 L1592.7 1440.2 L1593.8 1443.9 L1594.8 1447.7 L1595.9 1451.5 L1597.0 1451.5 L1598.1 1455.3 L1600.2 1455.3 L1601.3 1459.0 L1602.4 1459.0 L1603.4 1462.8 L1604.5 1466.6 L1605.6 1470.4 L1606.7 1470.4 L1607.7 1474.1 L1609.9 1474.1 L1610.9 1477.9 L1617.4 1477.9 L1618.5 1481.7 L1619.5 1481.7 L1620.6 1485.5 L1621.7 1485.5 L1622.8 1489.2 L1623.8 1489.2 L1624.9 1493.0 L1626.0 1496.8 L1627.1 1496.8 L1628.1 1500.6 L1629.2 1500.6 L1630.3 1504.3 L1631.3 1504.3 L1632.4 1508.1 L1638.9 1508.1 L1639.9 1511.9 L1645.3 1511.9 L1646.4 1515.7 L1648.5 1515.7 L1649.6 1519.4 L1652.8 1519.4 L1653.9 1523.2 L1656.0 1523.2 L1657.1 1527.0 L1659.3 1527.0 L1660.3 1530.8 L1665.7 1530.8 L1666.8 1534.5 L1667.8 1534.5 L1668.9 1538.3 L1679.7 1538.3 L1680.7 1542.1 L1681.8 1542.1 L1682.9 1545.9 L1693.6 1545.9 L1694.7 1542.1 L1695.8 1542.1 L1696.8 1545.9 L1697.9 1545.9 L1699.0 1549.6 L1700.1 1553.4 L1701.1 1557.2 L1702.2 1561.0 L1706.5 1561.0 L1707.6 1557.2 L1708.6 1553.4 L1710.8 1553.4 L1711.9 1549.6 L1712.9 1549.6 L1714.0 1553.4 L1715.1 1553.4 L1716.2 1557.2 L1718.3 1557.2 L1719.4 1553.4 L1720.5 1549.6 L1721.5 1553.4 L1722.6 1553.4 L1723.7 1557.2 L1724.7 1561.0 L1725.8 1557.2 L1726.9 1553.4 L1728.0 1549.6 L1729.0 1553.4 L1730.1 1557.2 L1731.2 1561.0 L1736.6 1561.0 L1737.6 1557.2 L1738.7 1561.0 L1740.9 1561.0 L1741.9 1564.8 L1745.1 1564.8 L1746.2 1568.5 L1776.3 1568.5 L1777.0 1567.1"/>
<path class="cv" stroke="#B177DE" d="M348.0 57.0 L348.4 80.9 L349.5 126.2 L350.6 156.4 L351.6 186.6 L352.7 216.9 L353.8 247.1 L354.9 277.3 L355.9 307.5 L357.0 337.7 L358.1 364.1 L359.2 390.5 L360.2 420.7 L361.3 447.2 L362.4 466.0 L363.5 488.7 L364.5 507.6 L365.6 526.5 L366.7 545.3 L367.8 564.2 L368.8 575.5 L369.9 590.6 L371.0 605.7 L372.0 617.1 L373.1 628.4 L374.2 639.7 L375.3 651.0 L376.3 666.2 L377.4 677.5 L378.5 688.8 L379.6 700.1 L380.6 711.5 L381.7 719.0 L382.8 730.3 L383.9 737.9 L384.9 745.4 L386.0 753.0 L387.1 760.5 L388.2 768.1 L389.2 775.6 L390.3 783.2 L391.4 790.7 L392.4 794.5 L393.5 802.1 L394.6 805.8 L395.7 809.6 L396.7 813.4 L397.8 817.2 L398.9 824.7 L400.0 828.5 L403.2 828.5 L404.3 832.3 L405.3 836.1 L406.4 839.8 L407.5 843.6 L408.5 843.6 L409.6 847.4 L410.7 847.4 L411.8 851.2 L417.1 851.2 L418.2 854.9 L419.3 854.9 L420.4 851.2 L421.4 847.4 L422.5 847.4 L423.6 843.6 L426.8 843.6 L427.9 839.8 L428.9 839.8 L430.0 836.1 L431.1 836.1 L432.2 832.3 L433.2 832.3 L434.3 828.5 L435.4 828.5 L436.5 824.7 L437.5 821.0 L438.6 817.2 L439.7 821.0 L442.9 821.0 L444.0 817.2 L445.1 813.4 L446.1 809.6 L449.3 809.6 L450.4 805.8 L451.5 802.1 L452.6 798.3 L453.6 798.3 L454.7 794.5 L455.8 794.5 L456.9 798.3 L462.2 798.3 L463.3 802.1 L464.4 805.8 L465.4 805.8 L466.5 809.6 L471.9 809.6 L473.0 805.8 L479.4 805.8 L480.5 809.6 L481.6 813.4 L482.6 817.2 L483.7 821.0 L484.8 824.7 L488.0 824.7 L489.1 821.0 L492.3 821.0 L493.4 824.7 L494.4 828.5 L495.5 828.5 L496.6 832.3 L497.7 832.3 L498.7 836.1 L499.8 839.8 L501.9 839.8 L503.0 843.6 L507.3 843.6 L508.4 847.4 L509.5 854.9 L510.5 858.7 L511.6 862.5 L512.7 866.3 L513.8 870.0 L514.8 873.8 L515.9 881.4 L517.0 888.9 L518.1 892.7 L521.3 892.7 L522.3 900.2 L523.4 911.6 L524.5 919.1 L525.6 922.9 L526.6 930.4 L527.7 934.2 L528.8 941.8 L529.9 945.5 L530.9 949.3 L532.0 953.1 L533.1 960.7 L534.2 964.4 L535.2 968.2 L536.3 975.8 L537.4 983.3 L538.5 990.9 L539.5 998.4 L540.6 1002.2 L541.7 1006.0 L542.7 1009.7 L543.8 1013.5 L544.9 1017.3 L546.0 1021.1 L547.0 1032.4 L548.1 1039.9 L549.2 1051.3 L550.3 1062.6 L552.4 1062.6 L553.5 1066.4 L554.6 1066.4 L555.6 1070.1 L556.7 1073.9 L557.8 1077.7 L558.8 1081.5 L563.1 1081.5 L564.2 1085.2 L565.3 1089.0 L566.4 1089.0 L567.4 1092.8 L568.5 1092.8 L569.6 1096.6 L570.7 1092.8 L571.7 1089.0 L572.8 1085.2 L573.9 1085.2 L575.0 1089.0 L576.0 1089.0 L577.1 1092.8 L578.2 1092.8 L579.2 1096.6 L580.3 1096.6 L581.4 1092.8 L582.5 1092.8 L583.5 1089.0 L584.6 1089.0 L585.7 1092.8 L587.8 1092.8 L588.9 1085.2 L590.0 1081.5 L591.1 1073.9 L592.1 1070.1 L593.2 1066.4 L595.4 1066.4 L596.4 1070.1 L599.6 1070.1 L600.7 1066.4 L601.8 1062.6 L602.9 1058.8 L605.0 1058.8 L606.1 1062.6 L612.5 1062.6 L613.6 1066.4 L615.7 1066.4 L616.8 1062.6 L622.2 1062.6 L623.3 1066.4 L624.3 1070.1 L625.4 1073.9 L626.5 1077.7 L632.9 1077.7 L634.0 1081.5 L635.1 1081.5 L636.1 1089.0 L637.2 1092.8 L638.3 1096.6 L639.4 1100.3 L643.7 1100.3 L644.7 1104.1 L645.8 1107.9 L646.9 1107.9 L648.0 1111.7 L649.0 1111.7 L650.1 1115.5 L651.2 1115.5 L652.2 1119.2 L653.3 1123.0 L654.4 1126.8 L655.5 1130.6 L656.5 1134.3 L657.6 1134.3 L658.7 1138.1 L659.8 1138.1 L660.8 1141.9 L661.9 1141.9 L663.0 1145.7 L664.1 1149.4 L665.1 1153.2 L666.2 1157.0 L667.3 1157.0 L668.4 1160.8 L669.4 1164.5 L670.5 1164.5 L671.6 1168.3 L672.6 1172.1 L673.7 1172.1 L674.8 1175.9 L675.9 1175.9 L676.9 1179.6 L678.0 1179.6 L679.1 1183.4 L680.2 1187.2 L681.2 1191.0 L682.3 1194.7 L683.4 1198.5 L684.5 1198.5 L685.5 1202.3 L686.6 1206.1 L687.7 1209.8 L688.8 1209.8 L689.8 1213.6 L690.9 1217.4 L692.0 1217.4 L693.0 1221.2 L696.3 1221.2 L697.3 1224.9 L698.4 1228.7 L699.5 1232.5 L700.6 1236.3 L701.6 1240.0 L702.7 1243.8 L703.8 1243.8 L704.9 1247.6 L705.9 1251.4 L707.0 1255.1 L708.1 1255.1 L709.1 1258.9 L710.2 1262.7 L711.3 1262.7 L712.4 1266.5 L714.5 1266.5 L715.6 1270.3 L716.7 1270.3 L717.7 1274.0 L718.8 1274.0 L719.9 1277.8 L721.0 1277.8 L722.0 1281.6 L723.1 1281.6 L724.2 1285.4 L726.3 1285.4 L727.4 1289.1 L728.5 1289.1 L729.5 1292.9 L730.6 1292.9 L731.7 1296.7 L732.8 1292.9 L734.9 1292.9 L736.0 1296.7 L738.1 1296.7 L739.2 1300.5 L740.3 1300.5 L741.4 1304.2 L742.4 1304.2 L743.5 1308.0 L748.9 1308.0 L749.9 1304.2 L752.1 1304.2 L753.2 1308.0 L755.3 1308.0 L756.4 1304.2 L759.6 1304.2 L760.7 1308.0 L768.2 1308.0 L769.3 1304.2 L781.1 1304.2 L782.2 1300.5 L784.3 1300.5 L785.4 1296.7 L792.9 1296.7 L794.0 1292.9 L797.2 1292.9 L798.3 1289.1 L801.5 1289.1 L802.5 1285.4 L803.6 1285.4 L804.7 1281.6 L806.8 1281.6 L807.9 1277.8 L810.1 1277.8 L811.1 1281.6 L812.2 1281.6 L813.3 1277.8 L814.4 1277.8 L815.4 1274.0 L816.5 1274.0 L817.6 1270.3 L818.7 1270.3 L819.7 1266.5 L820.8 1266.5 L821.9 1262.7 L827.2 1262.7 L828.3 1258.9 L829.4 1258.9 L830.5 1255.1 L831.5 1255.1 L832.6 1251.4 L834.8 1251.4 L835.8 1247.6 L836.9 1247.6 L838.0 1243.8 L839.1 1243.8 L840.1 1240.0 L844.4 1240.0 L845.5 1236.3 L846.6 1232.5 L847.6 1232.5 L848.7 1228.7 L849.8 1224.9 L850.9 1224.9 L851.9 1221.2 L853.0 1221.2 L854.1 1217.4 L857.3 1217.4 L858.4 1213.6 L860.5 1213.6 L861.6 1209.8 L862.7 1209.8 L863.7 1206.1 L864.8 1206.1 L865.9 1202.3 L867.0 1202.3 L868.0 1198.5 L869.1 1198.5 L870.2 1194.7 L874.5 1194.7 L875.6 1191.0 L876.6 1191.0 L877.7 1187.2 L878.8 1187.2 L879.8 1183.4 L880.9 1179.6 L885.2 1179.6 L886.3 1175.9 L888.4 1175.9 L889.5 1172.1 L890.6 1172.1 L891.7 1168.3 L892.7 1164.5 L893.8 1164.5 L894.9 1160.8 L896.0 1157.0 L897.0 1157.0 L898.1 1153.2 L900.2 1153.2 L901.3 1149.4 L902.4 1149.4 L903.5 1145.7 L904.5 1145.7 L905.6 1141.9 L906.7 1141.9 L907.8 1138.1 L908.8 1134.3 L909.9 1130.6 L911.0 1126.8 L912.1 1126.8 L913.1 1123.0 L914.2 1119.2 L915.3 1119.2 L916.3 1115.5 L917.4 1111.7 L918.5 1111.7 L919.6 1107.9 L920.6 1104.1 L921.7 1104.1 L922.8 1100.3 L923.9 1096.6 L924.9 1096.6 L926.0 1092.8 L927.1 1089.0 L928.2 1089.0 L929.2 1085.2 L930.3 1081.5 L931.4 1077.7 L932.5 1073.9 L933.5 1070.1 L934.6 1070.1 L935.7 1066.4 L936.7 1062.6 L937.8 1058.8 L938.9 1055.0 L940.0 1051.3 L941.0 1047.5 L942.1 1043.7 L943.2 1036.2 L944.3 1032.4 L945.3 1028.6 L946.4 1021.1 L947.5 1017.3 L948.6 1013.5 L949.6 1009.7 L950.7 1006.0 L951.8 1002.2 L952.9 998.4 L953.9 990.9 L955.0 987.1 L956.1 983.3 L957.1 979.5 L958.2 975.8 L959.3 972.0 L960.4 968.2 L961.4 960.7 L962.5 956.9 L963.6 953.1 L964.7 945.5 L965.7 941.8 L966.8 938.0 L967.9 934.2 L969.0 926.7 L970.0 922.9 L971.1 919.1 L972.2 915.3 L973.2 911.6 L974.3 904.0 L975.4 900.2 L976.5 896.5 L977.5 888.9 L978.6 885.1 L979.7 881.4 L980.8 873.8 L981.8 870.0 L982.9 866.3 L984.0 858.7 L985.1 854.9 L986.1 847.4 L987.2 843.6 L988.3 836.1 L989.4 832.3 L990.4 824.7 L991.5 821.0 L992.6 813.4 L993.6 809.6 L994.7 802.1 L995.8 798.3 L996.9 790.7 L997.9 787.0 L999.0 779.4 L1000.1 771.9 L1001.2 768.1 L1002.2 760.5 L1003.3 753.0 L1004.4 749.2 L1005.5 741.7 L1006.5 734.1 L1007.6 726.6 L1008.7 722.8 L1009.7 715.2 L1010.8 711.5 L1011.9 703.9 L1013.0 700.1 L1014.0 696.4 L1015.1 688.8 L1016.2 685.0 L1017.3 677.5 L1018.3 673.7 L1019.4 669.9 L1020.5 662.4 L1021.6 658.6 L1022.6 654.8 L1023.7 651.0 L1024.8 643.5 L1025.9 639.7 L1026.9 635.9 L1028.0 632.2 L1029.1 628.4 L1030.1 624.6 L1031.2 620.8 L1032.3 613.3 L1033.4 609.5 L1034.4 605.7 L1035.5 605.7 L1036.6 602.0 L1037.7 598.2 L1038.7 594.4 L1039.8 590.6 L1040.9 590.6 L1042.0 586.9 L1043.0 583.1 L1044.1 579.3 L1045.2 575.5 L1046.3 571.8 L1047.3 571.8 L1048.4 568.0 L1049.5 564.2 L1050.5 564.2 L1051.6 560.4 L1052.7 560.4 L1053.8 556.7 L1055.9 556.7 L1057.0 552.9 L1059.1 552.9 L1060.2 549.1 L1061.3 549.1 L1062.4 545.3 L1072.0 545.3 L1073.1 541.6 L1079.5 541.6 L1080.6 545.3 L1086.0 545.3 L1087.0 549.1 L1089.2 549.1 L1090.3 552.9 L1092.4 552.9 L1093.5 556.7 L1096.7 556.7 L1097.8 560.4 L1098.9 564.2 L1099.9 564.2 L1101.0 568.0 L1102.1 571.8 L1103.2 571.8 L1104.2 575.5 L1105.3 579.3 L1106.4 583.1 L1107.4 583.1 L1108.5 586.9 L1109.6 586.9 L1110.7 590.6 L1111.7 594.4 L1112.8 594.4 L1113.9 598.2 L1115.0 602.0 L1116.0 605.7 L1117.1 609.5 L1118.2 609.5 L1119.3 613.3 L1120.3 617.1 L1121.4 620.8 L1122.5 624.6 L1123.5 628.4 L1124.6 632.2 L1125.7 635.9 L1126.8 639.7 L1127.8 639.7 L1128.9 643.5 L1130.0 647.3 L1131.1 647.3 L1132.1 651.0 L1133.2 654.8 L1134.3 658.6 L1135.4 658.6 L1136.4 662.4 L1137.5 666.2 L1138.6 669.9 L1139.7 673.7 L1140.7 677.5 L1141.8 681.3 L1142.9 685.0 L1143.9 685.0 L1145.0 688.8 L1146.1 692.6 L1147.2 696.4 L1148.2 700.1 L1149.3 703.9 L1150.4 703.9 L1151.5 707.7 L1152.5 711.5 L1153.6 715.2 L1154.7 719.0 L1155.8 719.0 L1156.8 722.8 L1157.9 726.6 L1159.0 726.6 L1160.0 730.3 L1161.1 730.3 L1162.2 734.1 L1163.3 734.1 L1164.3 737.9 L1165.4 741.7 L1166.5 745.4 L1167.6 745.4 L1168.6 749.2 L1169.7 749.2 L1170.8 753.0 L1171.9 753.0 L1172.9 756.8 L1174.0 756.8 L1175.1 760.5 L1176.2 760.5 L1177.2 764.3 L1178.3 768.1 L1179.4 768.1 L1180.4 771.9 L1181.5 771.9 L1182.6 775.6 L1184.7 775.6 L1185.8 779.4 L1186.9 779.4 L1188.0 783.2 L1189.0 783.2 L1190.1 787.0 L1191.2 787.0 L1192.3 790.7 L1193.3 790.7 L1194.4 794.5 L1196.6 794.5 L1197.6 798.3 L1201.9 798.3 L1203.0 802.1 L1205.1 802.1 L1206.2 805.8 L1210.5 805.8 L1211.6 809.6 L1214.8 809.6 L1215.9 813.4 L1221.2 813.4 L1222.3 817.2 L1223.4 817.2 L1224.5 821.0 L1230.9 821.0 L1232.0 824.7 L1234.1 824.7 L1235.2 821.0 L1237.3 821.0 L1238.4 824.7 L1250.2 824.7 L1251.3 821.0 L1253.5 821.0 L1254.5 824.7 L1255.6 821.0 L1256.7 817.2 L1263.1 817.2 L1264.2 813.4 L1267.4 813.4 L1268.5 809.6 L1270.6 809.6 L1271.7 805.8 L1273.8 805.8 L1274.9 802.1 L1277.1 802.1 L1278.1 798.3 L1280.3 798.3 L1281.4 794.5 L1282.4 794.5 L1283.5 790.7 L1284.6 790.7 L1285.7 787.0 L1286.7 787.0 L1287.8 783.2 L1288.9 783.2 L1290.0 779.4 L1291.0 779.4 L1292.1 775.6 L1293.2 775.6 L1294.2 771.9 L1295.3 768.1 L1296.4 764.3 L1297.5 764.3 L1298.5 760.5 L1299.6 756.8 L1301.8 756.8 L1302.8 753.0 L1305.0 753.0 L1306.1 749.2 L1307.1 749.2 L1308.2 745.4 L1309.3 741.7 L1310.3 737.9 L1311.4 737.9 L1312.5 734.1 L1313.6 734.1 L1314.6 730.3 L1315.7 730.3 L1316.8 726.6 L1317.9 726.6 L1318.9 722.8 L1320.0 722.8 L1321.1 719.0 L1322.2 719.0 L1323.2 715.2 L1324.3 715.2 L1325.4 711.5 L1326.5 711.5 L1327.5 707.7 L1329.7 707.7 L1330.7 703.9 L1331.8 703.9 L1332.9 700.1 L1335.0 700.1 L1336.1 696.4 L1338.3 696.4 L1339.3 692.6 L1340.4 692.6 L1341.5 688.8 L1349.0 688.8 L1350.1 685.0 L1357.6 685.0 L1358.7 681.3 L1361.9 681.3 L1363.0 677.5 L1364.0 677.5 L1365.1 681.3 L1376.9 681.3 L1378.0 685.0 L1382.3 685.0 L1383.4 688.8 L1390.9 688.8 L1391.9 692.6 L1394.1 692.6 L1395.2 696.4 L1396.2 696.4 L1397.3 700.1 L1399.5 700.1 L1400.5 703.9 L1404.8 703.9 L1405.9 707.7 L1408.0 707.7 L1409.1 711.5 L1411.3 711.5 L1412.3 715.2 L1414.5 715.2 L1415.6 719.0 L1416.6 719.0 L1417.7 722.8 L1419.9 722.8 L1420.9 726.6 L1423.1 726.6 L1424.1 730.3 L1425.2 730.3 L1426.3 734.1 L1427.4 734.1 L1428.4 737.9 L1429.5 741.7 L1430.6 741.7 L1431.7 745.4 L1432.7 745.4 L1433.8 749.2 L1434.9 749.2 L1436.0 753.0 L1437.0 753.0 L1438.1 756.8 L1439.2 760.5 L1440.3 760.5 L1441.3 764.3 L1442.4 768.1 L1443.5 768.1 L1444.5 771.9 L1445.6 771.9 L1446.7 775.6 L1447.8 779.4 L1448.8 783.2 L1449.9 787.0 L1451.0 790.7 L1452.1 794.5 L1453.1 798.3 L1454.2 798.3 L1455.3 802.1 L1456.4 805.8 L1457.4 809.6 L1458.5 809.6 L1459.6 813.4 L1460.6 817.2 L1461.7 821.0 L1462.8 824.7 L1463.9 828.5 L1464.9 832.3 L1466.0 836.1 L1467.1 839.8 L1468.2 843.6 L1469.2 847.4 L1470.3 851.2 L1471.4 854.9 L1472.5 858.7 L1473.5 862.5 L1474.6 866.3 L1475.7 870.0 L1476.8 877.6 L1477.8 881.4 L1478.9 885.1 L1480.0 888.9 L1481.0 892.7 L1482.1 896.5 L1483.2 900.2 L1484.3 907.8 L1485.3 911.6 L1486.4 915.3 L1487.5 919.1 L1488.6 919.1 L1489.6 926.7 L1490.7 930.4 L1491.8 934.2 L1492.9 941.8 L1493.9 949.3 L1495.0 953.1 L1496.1 960.7 L1497.2 964.4 L1498.2 968.2 L1499.3 972.0 L1500.4 975.8 L1501.4 979.5 L1502.5 987.1 L1503.6 990.9 L1504.7 994.6 L1505.7 998.4 L1506.8 1002.2 L1507.9 1009.7 L1509.0 1013.5 L1510.0 1017.3 L1511.1 1024.8 L1512.2 1028.6 L1513.3 1032.4 L1514.3 1039.9 L1515.4 1043.7 L1516.5 1047.5 L1517.5 1055.0 L1518.6 1058.8 L1519.7 1062.6 L1520.8 1070.1 L1521.8 1073.9 L1522.9 1081.5 L1524.0 1089.0 L1525.1 1096.6 L1526.1 1104.1 L1527.2 1107.9 L1528.3 1111.7 L1529.4 1115.5 L1530.4 1119.2 L1531.5 1126.8 L1532.6 1134.3 L1533.7 1138.1 L1534.7 1141.9 L1535.8 1145.7 L1536.9 1149.4 L1537.9 1157.0 L1539.0 1160.8 L1540.1 1164.5 L1541.2 1172.1 L1542.2 1175.9 L1543.3 1179.6 L1544.4 1187.2 L1545.5 1191.0 L1546.5 1194.7 L1547.6 1202.3 L1548.7 1206.1 L1549.8 1213.6 L1550.8 1217.4 L1551.9 1221.2 L1553.0 1224.9 L1554.0 1228.7 L1555.1 1232.5 L1556.2 1236.3 L1557.3 1243.8 L1558.3 1247.6 L1559.4 1251.4 L1560.5 1255.1 L1561.6 1258.9 L1562.6 1262.7 L1563.7 1266.5 L1564.8 1274.0 L1565.9 1277.8 L1566.9 1281.6 L1568.0 1285.4 L1569.1 1289.1 L1570.2 1292.9 L1571.2 1296.7 L1572.3 1300.5 L1573.4 1304.2 L1574.4 1308.0 L1575.5 1311.8 L1576.6 1315.6 L1577.7 1319.3 L1578.7 1326.9 L1579.8 1326.9 L1580.9 1330.7 L1582.0 1334.4 L1583.0 1338.2 L1584.1 1342.0 L1585.2 1345.8 L1586.3 1349.5 L1587.3 1353.3 L1588.4 1360.9 L1589.5 1364.6 L1590.6 1368.4 L1591.6 1368.4 L1592.7 1372.2 L1593.8 1376.0 L1594.8 1376.0 L1595.9 1379.7 L1597.0 1383.5 L1598.1 1383.5 L1599.1 1387.3 L1600.2 1391.1 L1601.3 1394.8 L1602.4 1398.6 L1603.4 1402.4 L1606.7 1402.4 L1607.7 1406.2 L1608.8 1409.9 L1609.9 1409.9 L1610.9 1413.7 L1612.0 1417.5 L1613.1 1421.3 L1614.2 1425.1 L1615.2 1428.8 L1616.3 1432.6 L1622.8 1432.6 L1623.8 1436.4 L1624.9 1440.2 L1626.0 1443.9 L1627.1 1443.9 L1628.1 1447.7 L1630.3 1447.7 L1631.3 1451.5 L1632.4 1455.3 L1633.5 1459.0 L1639.9 1459.0 L1641.0 1462.8 L1643.2 1462.8 L1644.2 1466.6 L1645.3 1466.6 L1646.4 1470.4 L1647.5 1470.4 L1648.5 1474.1 L1652.8 1474.1 L1653.9 1477.9 L1655.0 1477.9 L1656.0 1481.7 L1657.1 1485.5 L1658.2 1485.5 L1659.3 1489.2 L1660.3 1489.2 L1661.4 1493.0 L1662.5 1496.8 L1665.7 1496.8 L1666.8 1493.0 L1670.0 1493.0 L1671.1 1496.8 L1672.1 1500.6 L1673.2 1500.6 L1674.3 1504.3 L1676.4 1504.3 L1677.5 1508.1 L1678.6 1508.1 L1679.7 1511.9 L1680.7 1511.9 L1681.8 1508.1 L1686.1 1508.1 L1687.2 1511.9 L1688.2 1511.9 L1689.3 1515.7 L1692.5 1515.7 L1693.6 1519.4 L1694.7 1515.7 L1699.0 1515.7 L1700.1 1519.4 L1701.1 1519.4 L1702.2 1523.2 L1703.3 1523.2 L1704.3 1527.0 L1705.4 1527.0 L1706.5 1523.2 L1708.6 1523.2 L1709.7 1527.0 L1710.8 1527.0 L1711.9 1530.8 L1712.9 1534.5 L1714.0 1534.5 L1715.1 1538.3 L1716.2 1534.5 L1718.3 1534.5 L1719.4 1530.8 L1725.8 1530.8 L1726.9 1534.5 L1728.0 1534.5 L1729.0 1538.3 L1730.1 1538.3 L1731.2 1534.5 L1732.3 1534.5 L1733.3 1530.8 L1734.4 1534.5 L1735.5 1538.3 L1736.6 1538.3 L1737.6 1542.1 L1738.7 1538.3 L1739.8 1534.5 L1741.9 1534.5 L1743.0 1538.3 L1744.1 1542.1 L1745.1 1542.1 L1746.2 1545.9 L1747.3 1545.9 L1748.4 1542.1 L1752.7 1542.1 L1753.7 1545.9 L1754.8 1545.9 L1755.9 1542.1 L1757.0 1538.3 L1758.0 1534.5 L1759.1 1530.8 L1760.2 1527.0 L1761.2 1530.8 L1762.3 1538.3 L1763.4 1542.1 L1764.5 1545.9 L1765.5 1549.6 L1766.6 1545.9 L1767.7 1542.1 L1768.8 1545.9 L1769.8 1549.6 L1770.9 1557.2 L1772.0 1557.2 L1773.1 1561.0 L1775.2 1561.0 L1776.3 1557.2 L1777.0 1558.5"/>
</svg>
<g class="ax">
<rect x="276.50" y="54.50" width="1503.00" height="1510.25"/>
<line x1="276.50" y1="1564.75" x2="276.50" y2="1587.15"/>
<line x1="383.86" y1="1564.75" x2="383.86" y2="1575.95"/>
<line x1="491.21" y1="1564.75" x2="491.21" y2="1587.15"/>
<line x1="598.57" y1="1564.75" x2="598.57" y2="1575.95"/>
<line x1="705.93" y1="1564.75" x2="705.93" y2="1587.15"/>
<line x1="813.29" y1="1564.75" x2="813.29" y2="1575.95"/>
<line x1="920.64" y1="1564.75" x2="920.64" y2="1587.15"/>
<line x1="1028.00" y1="1564.75" x2="1028.00" y2="1575.95"/>
<line x1="1135.36" y1="1564.75" x2="1135.36" y2="1587.15"/>
<line x1="1242.71" y1="1564.75" x2="1242.71" y2="1575.95"/>
<line x1="1350.07" y1="1564.75" x2="1350.07" y2="1587.15"/>
<line x1="1457.43" y1="1564.75" x2="1457.43" y2="1575.95"/>
<line x1="1564.79" y1="1564.75" x2="1564.79" y2="1587.15"/>
<line x1="1672.14" y1="1564.75" x2="1672.14" y2="1575.95"/>
<line x1="1779.50" y1="1564.75" x2="1779.50" y2="1587.15"/>
<line x1="276.50" y1="1564.75" x2="253.50" y2="1564.75"/>
<line x1="276.50" y1="1375.97" x2="265.00" y2="1375.97"/>
<line x1="276.50" y1="1187.19" x2="253.50" y2="1187.19"/>
<line x1="276.50" y1="998.41" x2="265.00" y2="998.41"/>
<line x1="276.50" y1="809.62" x2="253.50" y2="809.62"/>
<line x1="276.50" y1="620.84" x2="265.00" y2="620.84"/>
<line x1="276.50" y1="432.06" x2="253.50" y2="432.06"/>
<line x1="276.50" y1="243.28" x2="265.00" y2="243.28"/>
<line x1="276.50" y1="54.50" x2="253.50" y2="54.50"/>
</g>
<text class="tk" transform="translate(274.80 1670.10) scale(1 1.02)" text-anchor="middle">200</text>
<text class="tk" transform="translate(490.81 1670.10) scale(0.985 1.02)" text-anchor="middle">300</text>
<text class="tk" transform="translate(705.53 1670.10) scale(0.985 1.02)" text-anchor="middle">400</text>
<text class="tk" transform="translate(920.24 1670.10) scale(0.985 1.02)" text-anchor="middle">500</text>
<text class="tk" transform="translate(1134.96 1670.10) scale(0.985 1.02)" text-anchor="middle">600</text>
<text class="tk" transform="translate(1349.67 1670.10) scale(0.985 1.02)" text-anchor="middle">700</text>
<text class="tk" transform="translate(1564.39 1670.10) scale(0.985 1.02)" text-anchor="middle">800</text>
<text class="tk" transform="translate(1779.10 1670.10) scale(0.985 1.02)" text-anchor="middle">900</text>
<text class="tk" transform="translate(239.30 1590.55) scale(0.98 1.02)" text-anchor="end">0.0</text>
<text class="tk" transform="translate(239.30 1212.99) scale(0.98 1.02)" text-anchor="end">0.1</text>
<text class="tk" transform="translate(239.30 836.42) scale(0.98 1.02)" text-anchor="end">0.2</text>
<text class="tk" transform="translate(239.30 457.86) scale(0.98 1.02)" text-anchor="end">0.3</text>
<text class="tk" transform="translate(239.30 80.30) scale(0.98 1.02)" text-anchor="end">0.4</text>
<text class="tt" transform="translate(1027.70 1802.50) scale(1.004 1)" text-anchor="middle">wavelength, nm</text>
<text class="tt" transform="translate(89.00 810.60) rotate(-90) scale(1.006 1)" text-anchor="middle">absorbance, a.u.</text>
<text class="an" transform="translate(1612.30 703.40) scale(0.979 1.022)" text-anchor="start">60°C</text>
<text class="an" transform="translate(1607.30 1307.20) scale(0.979 1.022)" text-anchor="start">20°C</text>
</svg>
</body>
</html>
